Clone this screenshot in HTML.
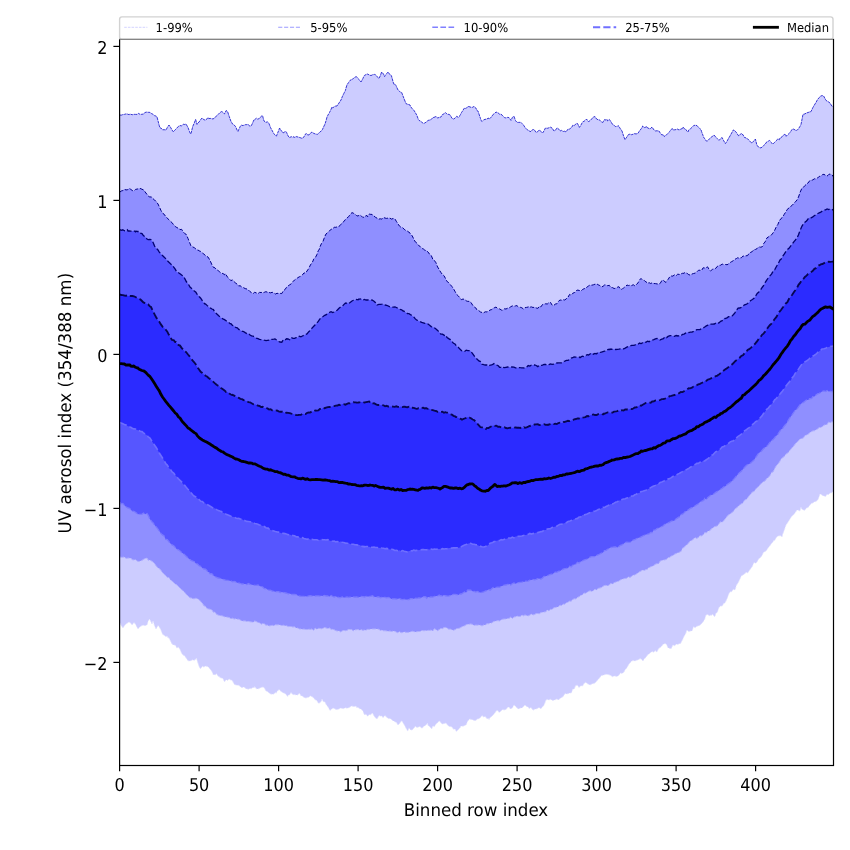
<!DOCTYPE html>
<html><head><meta charset="utf-8"><title>UV aerosol index percentiles</title>
<style>html,body{margin:0;padding:0;background:#fff}body{width:850px;height:850px;overflow:hidden}</style></head>
<body>
<svg width="850" height="850" viewBox="0 0 850 850" style="display:block;will-change:transform" text-rendering="geometricPrecision">
<path d="M120.0,115.0 L121.2,115.2 L122.8,114.6 L124.4,114.4 L126.0,113.9 L127.5,114.1 L129.1,114.7 L130.0,114.0 L130.7,114.3 L132.3,114.7 L133.9,114.3 L135.5,114.4 L137.1,114.4 L138.7,113.4 L140.0,114.4 L141.9,114.3 L143.4,114.0 L145.0,112.5 L146.6,112.1 L148.2,112.3 L150.0,112.4 L151.4,113.5 L153.0,114.3 L154.6,115.7 L156.2,116.1 L157.0,117.0 L157.8,120.0 L159.3,125.8 L160.0,128.0 L160.9,127.9 L162.5,129.8 L164.1,129.7 L166.0,130.0 L167.3,127.5 L169.0,125.0 L170.5,127.3 L172.1,130.0 L173.0,131.6 L173.7,131.4 L175.2,129.8 L176.8,128.1 L178.4,126.4 L180.0,125.6 L181.6,125.8 L183.2,124.3 L184.8,124.5 L186.0,124.0 L188.0,127.5 L189.6,131.8 L190.6,134.0 L191.1,133.1 L192.7,126.6 L194.3,122.9 L195.6,119.4 L197.0,124.4 L197.5,123.3 L199.1,122.0 L200.7,119.6 L202.0,118.0 L203.9,119.7 L205.0,120.0 L205.5,120.0 L207.0,118.9 L208.0,117.6 L208.6,118.6 L210.2,118.4 L211.8,118.7 L213.0,119.0 L215.0,117.7 L216.6,115.7 L218.2,114.5 L219.8,112.7 L221.4,111.6 L222.0,111.6 L222.9,112.3 L224.0,113.6 L224.5,113.8 L226.1,110.6 L227.0,111.0 L227.7,111.9 L229.3,116.7 L230.9,121.2 L232.0,123.0 L232.5,124.0 L234.1,124.9 L235.7,126.8 L237.3,130.6 L238.0,131.4 L238.8,129.4 L240.4,126.2 L241.4,125.0 L242.0,125.5 L243.6,125.4 L245.2,124.7 L246.8,124.6 L248.0,124.4 L250.0,126.3 L251.0,126.0 L251.6,125.1 L253.2,121.7 L254.0,119.6 L254.7,119.7 L256.3,118.2 L257.9,119.4 L259.0,118.4 L259.5,118.4 L261.1,116.6 L262.0,115.4 L262.7,116.3 L264.0,121.0 L265.9,122.4 L267.5,121.8 L269.0,123.6 L270.6,127.7 L272.4,131.0 L273.8,133.7 L275.4,135.2 L276.4,136.2 L277.0,134.6 L278.6,130.7 L279.6,128.0 L280.2,129.2 L281.8,131.3 L283.0,133.0 L285.0,131.7 L286.0,131.6 L286.5,132.3 L288.1,135.9 L289.4,137.6 L291.3,136.7 L292.9,137.4 L294.0,136.6 L294.5,137.5 L296.1,136.6 L298.0,137.0 L299.3,137.4 L300.9,137.9 L302.0,138.4 L304.0,136.9 L305.6,133.9 L306.4,133.6 L307.2,134.7 L309.0,135.0 L310.4,133.2 L312.0,132.0 L313.6,133.3 L315.2,133.9 L316.8,134.3 L317.4,134.4 L318.3,133.6 L319.9,132.0 L321.5,130.8 L322.4,129.6 L323.1,128.0 L325.0,124.0 L326.3,119.8 L327.0,117.0 L327.9,115.2 L329.5,112.5 L331.1,109.2 L332.0,107.0 L332.7,108.0 L334.2,106.7 L335.8,106.0 L337.0,106.0 L339.0,103.0 L341.0,100.0 L342.2,96.9 L343.8,93.5 L345.4,90.5 L346.0,88.0 L347.0,84.8 L348.6,82.5 L350.0,80.4 L351.7,79.6 L353.3,78.6 L354.9,77.2 L356.4,76.6 L358.1,78.7 L359.7,80.2 L361.0,82.0 L362.9,78.5 L364.0,76.0 L364.5,75.4 L366.0,74.6 L367.0,74.0 L367.6,74.1 L369.2,74.9 L371.0,75.6 L372.4,74.8 L374.4,74.4 L375.6,74.8 L377.2,76.8 L379.0,78.4 L380.4,75.5 L381.6,72.0 L383.5,74.0 L384.6,76.6 L385.1,75.7 L386.7,73.5 L388.0,72.0 L389.9,74.6 L391.4,75.6 L393.1,81.9 L394.0,84.4 L394.7,84.0 L396.0,85.6 L398.0,90.0 L399.4,91.1 L401.0,92.7 L401.6,92.4 L402.6,94.9 L404.2,99.1 L406.0,103.6 L407.4,104.2 L409.0,104.6 L410.0,105.0 L410.6,106.6 L412.2,108.6 L413.7,110.1 L415.0,112.0 L416.9,115.4 L418.5,119.9 L419.0,120.4 L420.1,120.9 L421.7,122.1 L423.3,123.4 L424.0,123.4 L424.9,122.9 L426.5,121.9 L428.0,120.4 L430.0,120.0 L431.2,119.5 L432.8,117.6 L434.0,117.4 L436.0,116.5 L437.6,117.9 L439.2,117.5 L440.0,117.0 L440.8,117.2 L442.4,114.6 L444.0,113.8 L445.0,113.0 L445.5,112.6 L447.1,114.2 L449.0,114.4 L450.3,115.2 L451.9,118.2 L453.6,119.0 L455.1,118.1 L456.7,116.3 L458.3,117.3 L460.0,115.6 L461.4,112.7 L463.0,110.4 L464.0,108.4 L464.6,108.4 L466.2,108.4 L467.8,106.5 L469.0,106.6 L471.0,107.3 L472.6,107.3 L474.0,106.4 L475.8,108.0 L477.3,110.8 L478.0,111.0 L478.9,113.8 L480.5,118.5 L481.4,121.0 L482.1,121.5 L483.7,119.8 L485.0,119.4 L486.9,119.0 L488.5,118.0 L489.0,119.0 L490.1,118.4 L491.7,116.5 L493.2,114.4 L494.8,113.2 L496.0,112.0 L498.0,112.8 L499.6,114.2 L501.0,114.0 L502.8,116.0 L504.4,117.5 L506.0,118.0 L507.6,117.4 L509.0,117.6 L511.0,120.4 L512.3,117.6 L513.4,116.4 L513.9,116.2 L515.5,120.5 L517.0,122.4 L518.7,122.4 L520.3,122.3 L521.0,122.4 L521.9,123.4 L523.5,125.0 L525.0,127.4 L527.0,129.6 L528.2,130.2 L529.8,131.3 L531.0,131.6 L533.0,129.2 L534.6,130.2 L536.0,132.4 L537.8,131.6 L539.0,130.0 L540.9,131.3 L542.6,133.0 L544.1,130.7 L545.4,128.0 L547.3,128.3 L548.9,127.8 L550.5,127.0 L551.0,127.6 L552.1,128.0 L554.0,131.0 L555.3,130.4 L556.8,128.2 L557.4,128.0 L558.4,128.7 L560.0,131.0 L561.6,130.4 L563.2,131.5 L564.8,131.2 L566.0,132.0 L568.0,129.1 L569.6,129.2 L571.2,127.4 L572.0,127.0 L572.7,125.3 L574.3,125.6 L575.9,123.8 L576.6,123.4 L577.5,123.5 L579.4,127.4 L580.7,125.5 L582.3,122.5 L583.0,121.6 L583.9,121.4 L585.5,120.2 L586.6,119.0 L587.1,120.0 L588.4,121.6 L590.2,120.6 L591.8,118.8 L593.4,117.0 L595.0,116.6 L596.6,119.0 L598.2,119.9 L599.0,119.6 L599.8,120.2 L601.6,122.0 L603.0,122.4 L604.5,119.6 L606.1,120.1 L607.0,119.4 L607.7,120.9 L609.3,119.5 L610.0,120.2 L610.9,121.7 L612.5,124.3 L614.1,125.2 L615.0,126.4 L615.7,126.5 L617.3,126.3 L618.0,125.6 L618.9,126.3 L620.4,128.8 L622.0,131.0 L623.6,136.1 L625.0,139.6 L626.8,137.1 L628.4,134.6 L629.0,134.4 L630.0,134.1 L631.6,134.7 L633.2,134.2 L634.8,133.6 L636.0,134.0 L637.9,133.4 L639.5,130.9 L641.1,128.9 L642.0,127.6 L642.7,126.0 L644.3,127.5 L645.9,127.1 L647.0,126.6 L647.5,127.9 L649.1,128.5 L650.0,129.0 L650.7,128.3 L652.0,127.0 L654.0,130.0 L655.4,130.9 L657.0,130.8 L659.0,131.0 L660.2,133.0 L661.8,134.9 L663.4,134.8 L664.4,136.6 L665.0,135.7 L666.6,134.8 L668.1,133.3 L669.0,132.4 L669.7,131.4 L671.3,129.3 L672.4,128.6 L672.9,129.9 L674.5,129.8 L676.0,129.6 L677.7,129.1 L679.0,130.0 L680.9,129.1 L682.5,128.4 L683.0,127.0 L684.0,128.5 L685.6,129.2 L687.2,131.4 L688.0,132.0 L688.8,129.9 L690.4,128.8 L692.0,127.4 L693.6,125.6 L695.2,125.2 L697.0,125.6 L698.4,127.2 L699.9,128.7 L701.0,129.6 L701.5,131.4 L703.1,135.7 L704.0,138.0 L704.7,138.6 L706.3,141.0 L707.0,141.4 L707.9,140.6 L709.5,138.7 L711.1,137.3 L712.7,136.2 L714.0,135.0 L715.8,137.1 L717.4,138.7 L719.0,140.4 L720.6,138.7 L722.0,137.4 L723.8,140.9 L725.4,143.6 L727.0,141.2 L728.6,138.3 L730.0,136.0 L731.7,132.9 L733.3,130.0 L734.0,130.0 L734.9,131.1 L736.5,132.5 L738.1,135.3 L739.0,136.0 L739.7,135.0 L741.3,133.3 L742.0,134.4 L742.9,134.6 L744.5,137.5 L746.1,137.9 L747.0,139.0 L747.6,138.8 L749.2,140.4 L750.8,142.3 L752.0,143.0 L754.0,140.7 L755.4,139.0 L757.0,145.6 L758.8,147.0 L760.0,148.0 L762.0,147.3 L763.5,145.6 L765.1,144.3 L766.0,143.0 L766.7,141.9 L768.3,141.2 L769.6,140.4 L771.5,142.7 L772.4,144.0 L773.1,143.9 L774.7,142.2 L776.3,140.8 L777.0,139.6 L777.9,139.0 L779.4,139.7 L780.0,138.0 L781.0,137.9 L782.6,135.8 L784.2,134.7 L785.0,134.0 L785.8,136.1 L787.0,135.6 L789.0,133.6 L790.6,131.7 L792.0,129.4 L793.8,129.1 L795.3,130.2 L797.0,130.4 L798.5,128.7 L800.1,126.2 L801.0,124.4 L801.7,120.9 L803.0,114.4 L804.9,113.9 L806.4,113.0 L808.1,112.5 L809.7,111.9 L811.0,111.6 L812.8,107.7 L814.4,105.0 L816.0,102.4 L817.6,99.4 L819.2,97.7 L820.6,96.0 L822.4,95.6 L823.6,96.0 L826.0,100.4 L827.1,101.1 L828.7,102.0 L830.0,103.0 L831.9,106.2 L833.0,106.4 L833.5,106.7 L833.5,491.6 L833.0,491.6 L831.9,492.8 L830.3,492.9 L828.7,494.2 L828.0,495.0 L827.1,494.1 L825.6,496.4 L824.0,496.0 L822.4,495.4 L820.8,494.2 L820.0,494.0 L819.2,496.4 L818.0,499.6 L816.0,501.6 L814.4,501.7 L812.8,503.0 L811.2,503.4 L810.0,505.0 L808.1,507.5 L806.5,507.9 L804.9,509.9 L804.0,510.4 L803.3,509.7 L801.7,509.1 L801.0,507.0 L800.0,511.0 L798.5,510.3 L797.0,510.0 L795.3,512.6 L793.8,514.6 L792.0,516.0 L790.6,517.9 L789.0,520.6 L787.4,523.0 L786.0,525.0 L784.2,530.3 L782.6,534.5 L782.0,537.0 L781.0,535.8 L779.4,535.8 L778.0,536.0 L776.3,537.5 L774.7,540.4 L774.0,540.0 L773.1,541.8 L771.5,543.5 L769.9,545.7 L768.0,548.0 L766.7,550.2 L765.1,551.6 L763.5,552.3 L762.0,555.5 L760.0,558.0 L758.8,558.8 L758.0,560.0 L757.2,561.7 L755.6,563.2 L754.0,562.5 L752.4,566.2 L750.8,568.6 L750.0,569.5 L749.2,570.7 L747.6,572.9 L746.1,572.2 L744.5,574.1 L743.0,575.0 L741.3,575.9 L739.7,579.6 L738.0,583.0 L736.5,585.1 L735.0,590.0 L733.3,589.3 L731.7,591.7 L730.2,591.8 L729.0,593.5 L727.0,598.8 L725.0,603.0 L723.8,603.3 L722.2,606.1 L720.6,605.9 L719.0,607.5 L717.4,612.1 L715.8,613.6 L715.0,616.4 L714.3,616.4 L712.7,614.2 L711.1,615.5 L710.0,615.0 L709.5,616.1 L707.9,614.4 L706.0,615.0 L704.7,619.3 L703.0,622.0 L701.5,623.7 L699.9,625.2 L698.0,626.0 L696.8,626.2 L695.2,627.8 L693.6,626.7 L692.0,631.0 L690.0,631.0 L688.8,631.8 L687.0,630.0 L685.6,633.8 L684.0,636.4 L682.5,639.8 L680.9,642.8 L680.0,644.0 L679.3,643.6 L677.7,644.6 L677.0,644.0 L676.1,644.4 L674.5,645.7 L672.9,644.9 L671.3,648.5 L669.7,648.4 L669.0,648.0 L668.1,648.0 L666.6,644.6 L665.0,643.4 L664.0,644.0 L663.4,644.0 L661.8,645.9 L660.2,647.6 L658.6,648.4 L657.0,651.9 L656.0,651.6 L655.4,650.5 L653.8,652.2 L652.2,651.5 L650.7,652.4 L649.0,654.0 L647.5,654.9 L645.9,657.5 L644.3,658.7 L643.0,661.0 L641.1,659.1 L640.0,658.6 L639.5,659.0 L637.9,659.9 L636.3,660.3 L635.0,661.0 L633.2,660.6 L631.6,661.1 L630.0,663.1 L629.0,664.0 L628.4,665.0 L626.8,668.0 L625.2,669.6 L624.0,672.0 L622.0,673.5 L620.4,672.9 L618.9,675.2 L617.0,676.6 L615.7,676.2 L614.1,675.9 L612.5,676.7 L610.9,675.6 L610.0,675.3 L609.3,674.8 L607.7,674.5 L606.1,674.3 L605.0,674.4 L604.5,674.8 L603.0,675.3 L601.4,675.5 L600.0,677.5 L598.2,679.3 L596.6,681.2 L595.0,683.0 L593.4,683.6 L591.8,684.1 L590.0,685.0 L588.6,684.3 L587.1,683.5 L586.0,682.6 L585.5,682.4 L583.9,683.6 L583.0,685.6 L582.3,685.9 L580.7,685.7 L579.0,687.6 L577.5,685.3 L575.6,685.4 L574.3,689.0 L572.7,689.1 L572.0,691.4 L571.2,693.0 L569.6,693.0 L568.0,693.7 L566.4,693.9 L565.0,693.6 L563.2,696.6 L561.6,697.4 L560.0,698.4 L558.4,700.0 L556.8,699.0 L555.3,699.8 L553.7,700.3 L553.0,700.4 L552.1,700.2 L550.5,699.3 L550.0,699.4 L548.9,700.1 L547.3,699.4 L546.0,700.0 L544.1,705.1 L543.0,706.4 L542.5,706.8 L540.9,708.7 L539.0,707.6 L537.8,708.2 L536.2,709.0 L534.6,709.2 L534.0,709.6 L533.0,710.2 L531.0,707.4 L529.8,708.3 L529.0,708.4 L528.2,707.1 L526.6,706.4 L525.0,705.1 L524.0,706.0 L523.5,706.6 L521.9,707.9 L520.3,708.1 L518.4,709.0 L517.1,708.0 L515.5,706.2 L514.0,705.0 L512.3,708.1 L510.4,709.0 L509.1,707.2 L508.0,707.0 L506.0,709.6 L504.0,710.0 L502.8,709.5 L501.2,710.8 L499.6,712.2 L499.0,712.4 L498.0,710.7 L497.0,710.4 L496.4,710.8 L494.8,713.0 L494.0,714.0 L493.2,714.9 L491.7,716.4 L490.1,717.5 L489.0,719.6 L488.5,718.5 L486.9,718.7 L485.3,716.5 L483.7,716.9 L482.0,715.6 L480.5,717.4 L478.9,718.8 L477.3,718.9 L476.0,720.4 L474.2,720.5 L472.6,719.8 L471.0,719.4 L469.6,719.0 L467.8,720.9 L466.0,725.0 L464.6,725.6 L463.0,726.2 L461.0,726.0 L459.9,728.1 L458.3,729.4 L456.4,731.6 L455.1,729.1 L453.5,729.2 L452.0,727.0 L450.3,726.6 L449.0,726.4 L447.1,724.5 L446.0,723.0 L445.5,723.2 L444.0,723.6 L442.4,724.0 L440.8,722.7 L440.0,721.2 L439.2,721.0 L437.6,722.8 L436.0,724.0 L434.4,726.6 L432.8,725.9 L431.6,729.0 L429.6,726.4 L428.1,725.6 L427.4,723.0 L426.5,724.5 L424.9,725.7 L423.3,726.8 L422.0,728.4 L420.0,726.4 L418.5,727.0 L416.9,727.4 L415.3,726.3 L414.0,728.0 L412.2,729.9 L410.6,729.9 L409.0,727.9 L408.0,730.6 L407.4,730.7 L405.8,727.8 L404.2,724.7 L402.6,722.3 L402.0,721.0 L401.0,721.2 L399.4,723.8 L398.0,725.0 L396.3,722.3 L394.7,721.8 L394.0,721.0 L393.1,720.9 L391.5,719.5 L390.0,718.6 L388.3,718.5 L386.7,717.2 L385.0,715.6 L383.5,717.0 L383.0,717.6 L381.9,716.0 L380.4,716.1 L379.0,715.6 L377.2,718.8 L376.0,718.4 L374.0,715.9 L373.0,714.0 L372.4,713.0 L370.8,714.5 L370.0,715.0 L369.2,714.4 L367.6,716.3 L366.0,714.3 L365.0,714.4 L364.5,714.9 L362.9,711.1 L361.0,709.0 L359.7,708.8 L358.1,707.5 L356.5,707.4 L356.0,706.0 L354.9,706.6 L353.3,706.4 L351.7,705.9 L350.0,707.0 L348.6,707.8 L347.0,708.2 L345.4,707.7 L344.0,708.6 L342.2,708.5 L340.6,708.1 L339.0,708.9 L337.4,709.6 L336.0,709.4 L334.2,708.6 L333.0,708.0 L331.1,709.5 L330.0,710.4 L329.5,709.8 L327.9,706.7 L326.3,704.8 L325.0,702.0 L323.1,701.5 L322.0,699.0 L321.5,701.2 L319.9,702.4 L319.0,703.6 L318.3,702.9 L316.8,700.6 L315.2,699.8 L313.6,698.1 L312.0,696.4 L311.0,696.4 L310.4,695.8 L308.8,697.2 L307.2,697.4 L306.0,698.0 L304.0,697.6 L302.4,695.9 L300.9,695.8 L300.0,694.0 L299.3,693.3 L297.7,694.9 L296.0,695.0 L294.5,694.6 L292.9,694.7 L291.0,692.4 L289.7,694.7 L288.1,695.3 L287.6,696.4 L286.5,694.9 L285.0,693.4 L284.0,693.0 L283.4,692.9 L281.8,691.9 L280.2,690.8 L279.0,689.6 L277.0,691.6 L276.0,693.3 L275.4,692.2 L273.8,694.1 L272.0,694.2 L270.6,693.9 L269.1,693.0 L268.0,692.0 L267.5,691.5 L265.9,690.9 L264.3,687.7 L263.0,687.0 L261.1,687.5 L259.5,688.3 L258.0,689.0 L256.3,688.8 L254.7,686.4 L254.0,688.0 L253.2,687.2 L251.6,688.6 L250.0,688.6 L248.4,689.2 L246.8,688.8 L246.0,689.0 L245.2,687.8 L243.6,686.9 L242.0,687.7 L240.4,686.7 L238.8,685.2 L237.3,685.2 L236.0,685.0 L234.1,684.2 L232.5,680.8 L230.9,679.8 L230.0,680.0 L229.3,678.7 L227.7,680.4 L226.1,679.8 L225.0,681.0 L224.5,681.9 L222.9,678.4 L221.4,678.0 L219.8,677.6 L219.0,676.0 L218.2,676.4 L216.6,673.8 L215.0,675.1 L214.0,674.4 L213.4,675.0 L211.8,671.2 L210.0,669.0 L208.6,667.3 L207.0,666.2 L206.0,666.4 L205.5,666.1 L203.9,667.1 L202.3,666.2 L200.7,668.5 L200.0,668.4 L199.1,666.5 L197.5,661.7 L196.4,658.0 L195.9,658.9 L194.0,660.4 L192.7,659.8 L191.1,660.6 L190.0,661.0 L188.0,660.7 L186.4,658.5 L184.8,655.9 L183.0,655.0 L181.6,653.2 L180.0,649.4 L179.0,648.0 L178.4,647.2 L176.8,647.9 L175.2,645.1 L173.7,645.1 L172.0,644.0 L170.5,641.0 L168.9,637.8 L168.0,638.0 L167.3,636.2 L165.7,636.5 L164.1,635.3 L162.5,634.2 L162.0,633.0 L160.9,629.9 L159.3,627.0 L158.0,625.6 L156.0,629.0 L154.6,626.1 L153.0,621.0 L152.0,624.0 L151.4,622.7 L149.6,619.0 L148.2,621.1 L147.0,625.0 L145.0,625.7 L143.4,625.2 L142.0,625.6 L140.3,626.6 L138.7,628.0 L138.0,629.0 L137.1,627.4 L135.5,624.3 L134.0,622.4 L132.0,625.0 L130.7,623.1 L129.0,622.0 L127.5,623.0 L126.0,624.0 L124.4,625.8 L123.0,628.0 L121.2,625.4 L120.0,623.0Z" fill="#ccccff"/>
<path d="M120.0,192.0 L121.2,191.0 L122.8,190.6 L124.4,189.0 L125.0,189.6 L126.0,189.9 L127.5,189.8 L129.1,188.2 L130.0,189.0 L130.7,189.3 L132.3,190.5 L134.0,191.0 L135.5,189.4 L137.1,189.1 L138.7,188.7 L140.0,188.4 L141.9,189.2 L143.4,189.9 L144.0,190.0 L145.0,191.8 L147.0,194.4 L148.2,196.0 L149.8,197.0 L151.4,196.9 L152.0,198.0 L153.0,198.7 L154.6,200.0 L156.2,201.6 L158.0,204.0 L159.3,206.8 L160.9,210.3 L162.4,213.0 L164.1,214.2 L165.7,216.5 L167.3,218.1 L168.0,219.0 L168.9,219.7 L170.5,221.4 L172.1,222.7 L173.7,225.0 L175.2,226.4 L176.0,227.0 L176.8,227.5 L178.4,228.3 L180.0,229.6 L181.6,229.3 L183.0,231.6 L184.8,233.6 L186.4,234.6 L187.0,236.0 L188.0,238.5 L189.6,242.5 L191.0,246.0 L192.7,246.9 L194.3,247.7 L195.9,249.0 L197.5,250.0 L198.0,250.0 L199.1,250.8 L200.7,251.5 L202.3,252.9 L203.9,254.1 L205.5,255.6 L207.0,256.5 L208.0,257.0 L208.6,257.9 L210.2,260.8 L211.8,264.5 L213.0,267.0 L215.0,267.9 L216.6,269.6 L218.2,270.6 L219.8,272.0 L221.4,273.4 L222.0,273.6 L222.9,273.4 L224.5,274.8 L225.0,273.6 L226.1,274.8 L227.7,277.4 L229.3,278.8 L230.0,279.6 L230.9,280.7 L232.5,279.9 L234.1,281.7 L235.7,283.1 L237.3,284.3 L238.8,286.1 L240.0,285.6 L242.0,287.2 L243.6,287.7 L245.2,288.6 L247.0,289.0 L248.4,290.0 L250.0,291.6 L252.0,293.0 L253.2,293.5 L254.7,292.3 L256.3,292.9 L257.9,293.7 L259.5,292.4 L261.1,292.5 L262.0,292.4 L262.7,292.9 L264.3,292.3 L265.9,291.7 L267.5,292.2 L268.0,292.0 L269.1,292.5 L270.6,292.8 L272.2,292.3 L274.0,293.0 L275.4,294.0 L277.0,293.3 L278.6,293.5 L280.2,293.3 L281.0,293.6 L281.8,293.5 L283.4,290.7 L285.0,289.6 L286.5,287.3 L288.0,286.0 L289.7,284.8 L291.3,283.8 L292.9,281.7 L294.5,280.0 L296.0,279.0 L297.7,277.8 L299.3,276.8 L300.9,276.2 L302.4,274.9 L304.0,272.9 L305.6,273.1 L307.0,271.0 L308.8,268.4 L310.4,265.0 L312.0,262.7 L313.0,261.0 L313.6,259.1 L315.2,257.9 L316.8,254.8 L318.3,250.6 L319.0,250.0 L319.9,247.1 L321.5,243.4 L323.1,241.2 L324.7,236.7 L326.0,234.0 L327.9,232.3 L329.5,231.0 L331.1,229.2 L332.0,229.0 L332.7,228.7 L334.2,227.3 L335.8,227.3 L337.4,226.8 L339.0,226.3 L340.0,225.6 L340.6,224.8 L342.2,222.8 L343.8,221.6 L345.4,219.5 L347.0,218.0 L348.6,216.7 L350.1,214.5 L352.0,212.6 L353.3,213.2 L354.9,214.1 L356.5,215.5 L357.0,216.0 L358.1,215.8 L360.0,215.0 L361.3,215.9 L362.9,217.5 L364.0,217.0 L364.5,216.4 L366.0,215.9 L367.0,215.4 L367.6,216.7 L369.2,214.0 L370.8,214.4 L372.0,214.4 L374.0,216.0 L375.6,217.4 L377.2,218.2 L378.0,219.0 L378.8,219.1 L380.4,218.8 L381.9,219.1 L383.5,217.6 L385.1,218.0 L386.0,218.4 L386.7,218.4 L388.3,218.0 L389.9,218.1 L391.5,219.1 L393.1,218.5 L395.0,219.0 L396.3,221.3 L397.8,223.5 L399.4,226.0 L400.0,226.6 L401.0,227.2 L402.6,227.6 L404.2,229.3 L405.8,230.5 L407.4,231.1 L409.0,232.3 L410.0,233.0 L410.6,234.2 L412.2,235.8 L413.7,238.9 L415.3,241.9 L416.9,243.1 L418.0,245.0 L418.5,245.4 L420.1,246.4 L421.7,248.4 L423.3,248.9 L424.9,250.3 L426.5,250.6 L428.0,252.0 L429.6,254.2 L431.2,255.4 L432.8,259.2 L434.0,260.0 L436.0,262.8 L437.6,267.0 L439.2,269.4 L440.0,271.0 L440.8,272.3 L442.4,274.4 L444.0,275.7 L445.5,278.5 L447.1,281.6 L448.0,282.0 L448.7,282.7 L450.3,284.6 L451.9,286.5 L453.5,288.7 L455.1,291.6 L456.7,294.4 L458.3,295.9 L460.0,298.0 L461.4,299.7 L463.0,299.0 L464.6,299.5 L466.2,300.8 L467.8,301.4 L469.4,301.3 L470.0,302.0 L471.0,302.5 L472.6,305.1 L474.2,306.9 L475.8,307.9 L477.0,310.0 L478.9,310.7 L480.5,312.0 L482.1,312.5 L483.0,313.0 L483.7,312.7 L485.3,311.8 L486.9,311.9 L488.5,311.3 L490.0,310.0 L491.7,309.6 L493.2,308.0 L494.8,307.6 L496.0,307.0 L498.0,308.9 L499.6,308.9 L501.2,309.9 L502.0,310.4 L502.8,310.2 L504.4,308.8 L506.0,309.0 L507.6,308.2 L509.0,308.0 L510.7,306.8 L512.3,305.9 L513.9,306.3 L515.5,305.9 L516.0,305.6 L517.1,305.8 L518.7,307.2 L520.3,307.3 L521.9,307.8 L523.5,309.0 L524.0,309.0 L525.0,307.7 L526.6,307.4 L528.2,307.0 L529.0,306.6 L529.8,307.2 L531.4,306.9 L533.0,307.5 L534.6,307.2 L536.2,308.0 L537.0,308.0 L537.8,308.4 L539.4,306.3 L540.9,306.9 L542.5,304.5 L544.0,304.0 L545.7,303.8 L547.3,304.0 L548.9,302.6 L550.0,303.0 L550.5,302.4 L552.1,305.1 L553.0,305.6 L553.7,305.5 L555.3,304.1 L556.8,303.8 L558.4,301.4 L560.0,300.0 L561.6,300.2 L563.2,299.7 L564.8,300.0 L566.0,299.0 L568.0,297.2 L569.6,294.4 L571.2,295.2 L572.7,293.3 L574.3,292.6 L575.9,292.0 L577.0,290.0 L577.5,290.1 L579.1,290.4 L581.0,291.0 L582.3,289.7 L583.9,288.8 L585.5,288.3 L587.1,287.0 L588.6,285.9 L590.0,285.0 L591.8,285.2 L593.4,284.8 L595.0,284.2 L597.0,284.0 L598.2,284.8 L599.8,285.5 L601.0,287.0 L603.0,286.4 L604.5,285.0 L606.0,284.8 L607.7,285.7 L609.3,285.3 L610.9,287.6 L612.5,287.6 L614.1,288.5 L615.0,288.4 L615.7,288.2 L617.3,287.3 L618.0,287.0 L618.9,286.7 L620.4,289.0 L622.0,289.4 L623.6,287.8 L625.2,286.7 L627.0,285.0 L628.4,285.5 L630.0,285.2 L631.6,285.6 L633.2,284.7 L635.0,286.0 L636.3,284.6 L637.9,283.0 L639.5,280.1 L641.0,278.4 L642.7,280.3 L644.3,280.4 L645.9,282.0 L647.0,282.4 L647.5,283.3 L649.1,282.7 L650.7,283.5 L652.2,282.8 L653.8,283.5 L655.4,283.6 L657.0,283.9 L658.0,284.0 L658.6,284.1 L660.2,283.4 L661.8,280.6 L663.0,280.0 L665.0,281.8 L666.0,282.4 L666.6,281.0 L668.1,279.4 L670.0,276.4 L671.3,276.0 L672.9,276.1 L674.5,274.8 L676.1,275.7 L677.7,274.2 L679.3,274.4 L680.0,274.6 L680.9,273.9 L682.5,273.3 L684.0,273.3 L685.0,272.4 L685.6,272.8 L687.2,273.4 L688.8,274.7 L690.0,275.0 L692.0,274.0 L693.6,273.5 L695.2,273.1 L696.8,271.9 L698.4,270.3 L700.0,270.2 L701.5,270.6 L703.1,267.8 L704.7,268.0 L706.3,267.6 L707.5,266.8 L709.5,269.9 L710.5,271.0 L711.1,270.5 L712.7,269.2 L714.3,268.8 L715.8,268.3 L717.4,266.3 L719.0,265.4 L720.0,265.3 L720.6,265.2 L722.2,264.1 L723.8,264.7 L725.4,264.5 L727.0,264.7 L728.0,264.4 L728.6,263.7 L730.2,262.5 L731.7,261.6 L733.3,260.7 L734.9,259.3 L736.5,258.5 L737.5,257.8 L738.1,258.0 L739.7,257.9 L741.3,257.8 L742.9,256.1 L744.5,256.0 L746.0,255.8 L747.6,255.6 L749.2,253.1 L750.8,252.3 L752.4,251.5 L754.0,249.4 L754.5,249.7 L755.6,249.4 L757.2,248.5 L758.8,246.8 L760.4,247.2 L762.0,246.9 L763.0,245.8 L763.5,243.8 L765.1,241.9 L767.0,237.8 L768.3,237.0 L769.9,235.7 L771.5,234.9 L773.0,233.0 L774.7,230.3 L776.3,226.7 L777.9,224.4 L779.4,220.6 L780.0,220.0 L781.0,218.5 L782.6,217.3 L784.2,214.4 L785.8,211.9 L787.4,209.3 L788.0,209.0 L789.0,207.6 L790.6,206.5 L792.2,205.3 L793.8,203.5 L795.3,201.9 L797.0,200.0 L798.5,197.0 L800.1,192.3 L802.0,188.0 L803.3,187.4 L804.9,185.6 L806.5,184.1 L808.0,183.0 L810.0,180.4 L811.2,180.4 L812.8,179.9 L814.4,178.8 L816.0,179.0 L817.6,178.0 L819.2,176.4 L820.8,176.2 L822.4,174.7 L823.0,174.4 L824.0,174.4 L825.6,175.3 L827.1,175.9 L828.0,175.4 L828.7,174.5 L830.0,174.0 L831.9,174.8 L833.0,176.0 L833.5,177.2 L833.5,421.3 L833.0,422.0 L831.9,421.7 L830.3,422.8 L828.7,421.9 L828.0,423.0 L827.1,424.5 L825.6,424.7 L824.0,425.2 L822.4,426.6 L820.8,427.4 L820.0,427.5 L819.2,427.5 L817.6,428.9 L816.0,429.8 L814.4,430.8 L812.8,430.9 L811.2,431.8 L810.0,432.5 L808.1,434.2 L806.5,435.0 L804.9,435.6 L803.3,438.1 L801.7,438.4 L800.0,439.0 L798.5,440.8 L796.9,442.3 L795.3,443.8 L793.8,445.9 L792.2,447.4 L790.6,449.6 L790.0,450.0 L789.0,451.6 L787.4,453.3 L785.8,454.2 L784.2,456.5 L782.6,457.7 L781.0,459.0 L780.0,461.0 L779.4,462.1 L777.9,464.1 L776.3,465.7 L774.7,468.5 L773.1,471.9 L771.5,472.4 L770.0,475.5 L768.3,477.4 L766.7,478.5 L765.1,480.9 L763.5,481.5 L762.0,482.7 L760.4,484.3 L758.8,486.3 L758.0,487.0 L757.2,487.5 L755.6,489.2 L754.0,491.5 L752.4,491.9 L750.8,494.1 L749.2,495.6 L747.6,497.9 L746.1,499.4 L744.5,500.2 L744.0,501.0 L742.9,503.1 L741.3,503.8 L739.7,504.9 L738.1,506.3 L736.5,508.0 L734.9,508.9 L733.3,511.5 L731.7,512.7 L730.0,514.0 L728.6,514.7 L727.0,516.5 L725.4,518.6 L723.8,520.6 L722.2,522.2 L720.6,521.7 L719.0,523.7 L718.0,525.0 L717.4,525.9 L715.8,526.3 L714.3,526.7 L712.7,528.1 L711.1,529.1 L709.5,531.0 L707.9,531.0 L706.3,533.0 L704.7,532.4 L704.0,534.0 L703.1,534.8 L701.5,535.9 L699.9,535.6 L698.4,537.4 L696.8,538.4 L695.2,537.6 L693.6,538.8 L692.0,540.4 L690.0,541.0 L688.8,542.8 L687.2,544.4 L685.6,545.6 L684.0,547.5 L682.5,548.1 L680.9,551.7 L680.0,551.5 L679.3,552.4 L677.7,552.7 L676.1,553.6 L674.5,554.2 L672.9,555.4 L671.3,556.1 L669.7,557.3 L668.1,557.6 L666.6,559.2 L665.0,559.9 L664.0,560.0 L663.4,559.9 L661.8,560.4 L660.2,561.1 L658.6,563.7 L657.0,563.7 L655.4,564.2 L653.8,565.5 L652.2,566.2 L650.7,566.8 L649.1,567.7 L648.0,568.0 L647.5,569.2 L645.9,569.6 L644.3,570.4 L642.7,569.9 L641.1,571.0 L639.5,571.7 L637.9,572.9 L636.3,574.0 L634.8,575.0 L633.2,575.1 L632.0,576.0 L630.0,577.5 L628.4,576.8 L626.8,578.2 L625.2,578.4 L623.6,578.8 L622.0,579.3 L620.4,579.9 L618.9,581.1 L617.3,581.6 L616.0,582.0 L614.1,582.7 L612.5,583.9 L610.9,583.2 L609.3,585.0 L607.7,585.7 L606.1,585.3 L604.5,585.5 L603.0,586.3 L601.4,587.6 L600.0,588.0 L598.2,588.3 L596.6,590.1 L595.0,589.1 L593.4,590.6 L591.8,591.5 L590.2,590.8 L588.6,591.3 L587.1,592.3 L586.0,593.0 L585.5,593.3 L583.9,593.0 L582.3,595.0 L580.7,595.3 L579.1,596.8 L577.5,597.3 L575.9,599.0 L574.3,598.8 L572.7,599.5 L572.0,600.0 L571.2,601.3 L569.6,601.1 L568.0,602.2 L566.4,602.7 L564.8,604.2 L563.2,604.1 L561.6,605.5 L560.0,605.2 L558.0,607.0 L556.8,607.1 L555.3,607.5 L553.7,607.8 L552.1,609.6 L550.5,609.2 L548.9,610.9 L547.3,609.8 L545.7,611.9 L544.0,612.0 L542.5,612.3 L540.9,612.5 L539.4,613.7 L537.8,613.6 L536.2,613.5 L534.6,614.5 L533.0,615.0 L531.4,614.0 L530.0,615.0 L528.2,615.9 L526.6,615.6 L525.0,614.9 L523.5,615.8 L521.9,614.9 L520.3,616.4 L518.7,616.5 L517.1,616.0 L515.5,616.8 L514.0,617.0 L512.3,618.6 L510.7,617.1 L509.1,618.4 L507.6,618.5 L506.0,619.0 L504.4,619.0 L502.8,619.2 L501.2,619.7 L499.6,621.0 L498.0,620.6 L496.0,621.0 L494.8,621.2 L493.2,621.8 L491.7,623.0 L490.1,623.1 L488.5,623.8 L486.9,623.7 L485.3,625.0 L483.7,625.0 L482.0,626.0 L480.5,625.2 L478.9,624.9 L477.3,625.2 L475.8,625.1 L474.2,625.4 L472.6,624.4 L471.0,624.0 L470.0,624.0 L469.4,624.2 L467.8,624.3 L466.2,624.7 L464.6,625.8 L463.0,626.3 L461.4,627.1 L459.9,628.0 L458.3,628.4 L456.7,628.6 L455.1,629.7 L454.0,630.0 L453.5,630.3 L451.9,629.7 L450.3,629.1 L448.7,629.2 L447.1,628.0 L446.0,627.6 L445.5,627.4 L444.0,627.5 L442.4,628.7 L440.8,628.2 L440.0,629.3 L439.2,629.5 L437.6,630.7 L436.0,629.6 L434.4,628.7 L432.8,630.9 L431.2,630.1 L429.6,630.4 L428.1,630.3 L426.5,630.8 L426.0,630.4 L424.9,630.7 L423.3,630.7 L421.7,630.4 L420.1,631.5 L418.5,631.5 L416.9,631.7 L415.3,631.9 L413.7,631.6 L412.2,631.2 L410.6,631.8 L409.0,632.3 L407.4,632.4 L406.0,632.4 L404.2,631.8 L402.6,632.5 L401.0,632.8 L399.4,631.4 L397.8,632.7 L396.3,632.1 L394.7,631.2 L393.1,631.1 L391.5,631.5 L390.0,631.0 L388.3,631.3 L386.7,631.0 L385.1,630.8 L383.5,630.8 L381.9,630.1 L380.4,630.4 L378.8,629.3 L377.2,628.9 L375.6,628.9 L374.0,629.0 L372.4,629.0 L370.8,629.0 L369.2,629.4 L367.6,629.3 L366.0,630.2 L364.5,629.9 L362.9,630.4 L361.3,629.6 L359.7,630.2 L358.1,629.5 L356.5,629.7 L354.9,629.9 L354.0,630.0 L353.3,631.0 L351.7,629.5 L350.1,629.5 L348.6,629.3 L347.0,630.4 L345.4,630.7 L343.8,630.3 L342.2,630.9 L340.6,631.9 L339.0,630.8 L338.0,631.0 L337.4,631.0 L335.8,630.7 L334.2,629.7 L332.7,629.2 L331.1,629.4 L329.5,627.9 L327.9,628.4 L326.0,628.0 L324.7,627.5 L323.1,628.2 L321.5,628.8 L319.9,628.4 L318.3,628.4 L316.8,629.3 L315.2,628.1 L313.6,630.5 L312.0,628.9 L310.4,629.4 L308.8,629.2 L307.2,629.4 L306.0,629.6 L304.0,629.1 L302.4,629.2 L300.9,629.0 L299.3,628.9 L297.7,628.0 L296.1,628.1 L294.5,626.8 L292.9,627.1 L291.3,626.6 L290.0,626.4 L288.1,626.6 L286.5,625.7 L285.0,625.8 L283.4,625.2 L281.8,625.6 L280.0,625.0 L278.6,624.8 L277.0,624.9 L275.4,624.8 L273.8,625.7 L272.2,625.3 L270.6,625.7 L270.0,625.5 L269.1,626.2 L267.5,625.1 L265.9,625.2 L264.3,623.8 L262.7,623.5 L261.1,624.3 L259.5,622.7 L258.0,622.4 L256.3,621.6 L254.7,620.9 L253.2,622.2 L251.6,621.9 L250.0,621.8 L248.4,621.3 L246.8,621.6 L245.2,620.9 L244.0,621.0 L242.0,620.9 L240.4,620.1 L238.8,619.2 L237.3,619.2 L235.7,618.7 L234.1,619.1 L232.5,618.2 L230.9,618.8 L230.0,618.0 L229.3,617.6 L227.7,617.2 L226.1,616.9 L224.5,616.8 L222.9,616.1 L221.4,615.7 L219.8,615.6 L218.0,615.0 L216.6,614.4 L215.0,612.0 L213.4,612.3 L211.8,609.8 L210.2,609.2 L208.6,609.0 L207.0,608.5 L206.0,607.0 L205.5,606.3 L203.9,605.8 L202.3,603.1 L200.7,601.5 L199.1,599.7 L198.0,599.0 L197.5,598.8 L195.9,598.2 L194.3,598.7 L192.7,598.8 L191.1,597.8 L190.0,598.0 L188.0,595.7 L186.4,594.5 L184.8,592.5 L183.2,590.8 L181.6,589.7 L180.0,588.0 L178.4,586.5 L176.8,584.8 L175.2,584.0 L173.7,582.5 L172.0,581.0 L170.5,579.9 L168.9,577.5 L167.3,577.4 L165.7,575.5 L164.1,574.3 L162.5,572.4 L162.0,572.0 L160.9,570.3 L159.3,568.6 L157.8,567.7 L156.2,565.9 L154.6,563.6 L153.0,562.0 L151.4,560.9 L149.8,559.9 L148.2,560.3 L147.0,558.0 L145.0,558.6 L143.4,559.4 L141.9,560.4 L140.3,560.9 L139.0,561.5 L137.1,561.1 L135.5,559.6 L133.9,559.9 L132.3,559.8 L130.7,557.9 L130.0,558.2 L129.1,558.0 L127.5,558.2 L126.0,558.4 L124.4,556.9 L122.8,557.3 L121.2,557.3 L120.0,557.0Z" fill="#8f8fff"/>
<path d="M120.0,229.6 L121.2,230.3 L122.8,229.8 L124.4,230.7 L126.0,231.5 L127.5,229.9 L128.0,231.0 L129.1,230.8 L130.7,231.2 L132.3,231.0 L133.9,230.7 L135.5,231.9 L136.0,231.0 L137.1,231.5 L138.7,231.5 L140.3,233.2 L142.0,233.6 L143.4,235.6 L145.0,236.7 L147.0,239.0 L148.2,239.7 L149.8,239.5 L151.0,239.6 L153.0,242.3 L154.6,246.1 L156.0,248.0 L157.8,249.7 L159.3,252.1 L160.9,253.8 L162.5,255.6 L164.0,257.0 L165.7,258.6 L167.3,260.7 L168.9,262.2 L170.5,263.8 L172.0,265.0 L173.7,267.1 L175.2,269.2 L176.8,272.0 L178.0,272.4 L180.0,273.7 L181.6,275.0 L183.0,276.0 L184.8,278.6 L186.4,281.8 L188.0,283.5 L190.0,287.0 L191.1,287.9 L192.7,289.8 L194.3,291.1 L195.9,292.3 L197.5,294.9 L198.0,295.0 L199.1,296.5 L200.7,298.2 L202.3,300.6 L203.9,302.9 L205.0,304.0 L205.5,303.9 L207.0,305.4 L208.6,306.8 L210.2,307.9 L212.0,309.0 L213.4,309.6 L215.0,312.5 L216.6,313.7 L218.2,315.2 L220.0,317.0 L221.4,318.0 L222.9,318.8 L224.5,319.6 L226.1,320.7 L227.7,321.9 L229.3,322.9 L230.0,323.6 L230.9,323.7 L232.5,325.4 L234.1,325.7 L235.7,327.5 L237.3,327.8 L238.8,329.4 L240.0,330.0 L242.0,331.1 L243.6,331.5 L245.2,332.6 L246.8,333.5 L248.4,333.5 L250.0,335.0 L251.6,335.8 L253.2,336.2 L254.7,337.2 L256.3,338.1 L258.0,338.6 L259.5,339.3 L261.1,339.6 L262.7,339.7 L264.3,340.2 L266.0,340.6 L267.5,340.3 L269.1,340.1 L270.0,340.0 L270.6,339.2 L272.2,339.4 L273.8,339.2 L275.0,339.0 L277.0,340.2 L278.6,341.4 L280.0,342.0 L281.8,342.2 L283.4,339.7 L285.0,340.1 L286.5,338.8 L288.0,339.0 L289.7,339.8 L291.3,337.5 L292.9,338.4 L294.5,338.3 L296.1,337.7 L298.0,337.6 L299.3,336.2 L300.9,336.8 L302.4,336.0 L304.0,335.2 L305.6,334.3 L307.0,334.0 L308.8,331.7 L310.4,330.2 L312.0,328.1 L314.0,326.0 L315.2,324.7 L316.8,323.0 L318.3,321.4 L319.9,319.0 L321.5,317.5 L322.0,317.0 L323.1,316.5 L324.7,315.3 L326.3,314.6 L328.0,313.0 L329.5,312.4 L331.1,311.7 L332.7,312.6 L334.0,312.0 L335.8,311.1 L337.4,309.9 L339.0,308.2 L340.6,307.0 L342.2,306.5 L343.8,304.6 L345.4,303.1 L346.0,303.4 L347.0,302.6 L348.6,303.4 L350.1,302.5 L352.0,301.0 L353.3,300.3 L354.9,300.3 L356.5,299.4 L358.1,299.8 L359.0,299.0 L359.7,299.1 L361.3,298.9 L362.9,300.1 L364.5,299.5 L366.0,300.0 L367.6,300.0 L369.2,299.9 L370.8,300.1 L372.0,300.0 L374.0,301.3 L375.6,302.7 L377.0,305.0 L378.8,304.4 L380.4,304.4 L381.9,304.2 L383.0,304.0 L383.5,304.5 L385.1,305.0 L386.7,305.3 L388.3,306.0 L390.0,307.0 L391.5,306.9 L393.1,307.2 L395.0,307.0 L396.3,307.5 L397.8,308.2 L399.4,309.3 L401.0,309.6 L402.0,310.0 L402.6,310.6 L404.2,311.4 L405.8,312.2 L407.4,313.5 L409.0,313.6 L410.0,314.4 L410.6,314.7 L412.2,315.7 L413.7,316.8 L415.3,318.9 L416.9,320.2 L418.5,320.7 L419.0,321.0 L420.1,321.6 L421.7,322.4 L423.3,322.8 L424.9,323.4 L426.5,323.0 L428.0,324.0 L429.6,325.2 L431.2,326.6 L432.8,327.1 L434.4,327.7 L436.0,329.0 L437.6,330.4 L439.2,332.0 L440.0,333.2 L440.8,334.2 L442.4,334.1 L444.0,335.1 L445.5,336.7 L446.0,336.0 L447.1,337.5 L448.7,338.6 L450.3,339.6 L451.9,341.4 L453.5,343.3 L455.0,344.0 L456.7,346.2 L458.3,347.3 L459.9,349.1 L461.4,350.4 L462.0,351.0 L463.0,351.1 L464.6,351.4 L466.2,350.2 L467.8,350.7 L469.4,350.7 L470.0,350.6 L471.0,351.6 L472.6,353.6 L474.2,355.9 L475.8,358.3 L477.0,359.0 L478.9,360.9 L480.5,361.6 L482.1,364.4 L483.0,364.4 L483.7,364.6 L485.3,365.0 L486.9,365.0 L488.5,365.8 L489.0,366.0 L490.1,365.1 L491.7,364.8 L493.2,364.1 L494.0,363.6 L494.8,364.1 L496.4,365.0 L498.0,365.5 L499.6,367.3 L501.2,367.3 L502.0,368.0 L502.8,367.2 L504.4,367.7 L506.0,367.3 L507.6,367.0 L509.1,367.1 L510.7,367.2 L512.0,367.0 L513.9,367.1 L515.5,367.9 L517.1,367.7 L518.7,367.5 L520.3,367.7 L521.9,367.8 L523.5,367.9 L524.0,368.0 L525.0,367.9 L526.6,367.1 L528.2,365.6 L529.8,366.1 L531.4,365.2 L533.0,365.0 L534.6,365.0 L536.2,365.5 L537.8,366.6 L539.4,365.5 L540.0,366.0 L540.9,365.4 L542.5,365.1 L544.1,364.5 L545.7,364.5 L547.3,365.2 L548.9,364.6 L550.5,363.9 L552.0,364.4 L553.7,364.2 L555.3,363.3 L556.8,363.0 L558.4,362.9 L560.0,362.9 L561.6,362.8 L563.2,362.0 L564.0,361.4 L564.8,361.1 L566.4,360.4 L568.0,360.4 L569.6,359.5 L571.2,358.1 L572.7,357.7 L574.0,357.0 L575.9,357.2 L577.5,357.2 L579.1,357.0 L580.0,357.6 L580.7,357.1 L582.3,356.2 L583.9,356.7 L585.5,355.8 L587.1,354.6 L588.6,355.0 L590.0,354.0 L591.8,352.9 L593.4,354.2 L595.0,353.5 L596.6,353.8 L598.2,352.2 L600.0,352.4 L601.4,352.2 L603.0,351.7 L604.5,351.2 L606.1,351.1 L607.7,349.6 L609.3,349.3 L610.0,349.6 L610.9,349.0 L612.5,349.3 L614.1,349.2 L615.7,349.5 L617.3,349.3 L618.9,349.2 L620.4,348.8 L622.0,349.0 L623.6,348.8 L625.2,348.1 L626.8,347.2 L628.4,346.5 L630.0,346.0 L631.6,345.4 L633.2,345.4 L634.8,345.2 L636.3,344.2 L637.9,344.3 L639.5,343.1 L640.0,343.4 L641.1,343.5 L642.7,342.8 L644.3,341.7 L645.9,342.3 L647.5,341.2 L649.1,341.7 L650.0,341.0 L650.7,340.5 L652.2,340.1 L653.8,339.7 L655.4,338.9 L657.0,338.4 L658.6,339.0 L660.0,340.0 L661.8,339.2 L663.4,338.6 L665.0,336.7 L666.6,337.6 L668.1,336.4 L670.0,335.6 L671.3,335.7 L672.9,335.9 L674.5,336.3 L676.1,335.5 L678.0,336.0 L679.3,335.5 L680.9,335.9 L682.5,334.3 L684.0,334.1 L685.6,333.1 L687.2,332.2 L688.0,332.4 L688.8,332.6 L690.4,332.2 L692.0,332.1 L693.6,331.4 L695.2,330.5 L696.8,329.7 L698.4,329.7 L700.0,329.6 L701.5,328.4 L703.1,328.0 L704.7,327.0 L706.3,325.9 L707.9,325.1 L709.0,324.4 L709.5,324.3 L711.1,324.2 L712.7,324.1 L714.3,324.0 L715.8,323.1 L717.4,322.5 L718.0,323.0 L719.0,322.9 L720.6,321.4 L722.2,320.7 L723.8,318.6 L725.0,318.5 L727.0,317.8 L728.6,316.7 L730.2,316.5 L732.0,316.0 L733.3,314.7 L734.9,312.9 L736.5,309.9 L737.5,309.0 L738.1,308.1 L739.7,308.0 L741.3,307.4 L742.9,306.2 L744.5,304.8 L746.0,304.5 L747.6,303.5 L749.2,302.1 L750.8,300.4 L752.4,299.5 L754.0,298.4 L754.5,297.7 L755.6,296.0 L757.2,293.4 L758.8,292.1 L760.4,290.1 L762.0,287.7 L762.5,287.0 L763.5,285.7 L765.1,282.6 L766.7,280.2 L767.5,279.0 L768.3,277.8 L769.9,275.9 L771.5,274.1 L773.1,271.2 L774.0,270.0 L774.7,269.7 L776.3,266.8 L777.9,263.9 L779.4,261.2 L780.0,260.0 L781.0,259.3 L782.6,256.3 L784.2,254.2 L785.8,251.6 L787.4,250.0 L788.0,249.0 L789.0,248.3 L790.6,246.1 L792.2,244.1 L793.8,241.9 L795.3,240.1 L797.0,238.0 L798.5,234.8 L800.1,230.4 L802.0,226.0 L803.3,224.2 L804.9,222.3 L806.5,221.1 L808.0,219.0 L809.7,217.6 L811.2,217.8 L812.8,216.9 L814.4,215.6 L816.0,215.0 L817.6,213.7 L819.2,212.8 L820.8,212.1 L822.4,210.9 L824.0,210.0 L825.6,209.8 L827.1,208.9 L828.7,209.6 L830.0,209.0 L831.9,209.4 L833.0,210.0 L833.5,209.7 L833.5,391.3 L833.0,391.0 L831.9,391.7 L830.3,391.3 L828.7,391.4 L827.1,390.6 L825.6,391.5 L824.0,391.0 L822.0,391.6 L820.8,392.4 L819.2,393.3 L817.6,393.8 L816.0,395.1 L814.4,396.4 L812.8,396.7 L812.0,398.0 L811.2,398.6 L809.7,398.7 L808.1,400.1 L806.5,399.9 L804.9,401.2 L803.3,402.6 L802.0,403.0 L800.1,404.7 L798.5,407.0 L796.9,409.2 L795.3,410.1 L794.0,412.0 L792.2,414.7 L790.6,416.7 L789.0,419.1 L787.4,421.9 L786.0,424.0 L784.2,426.1 L782.6,428.5 L781.0,429.6 L779.4,431.8 L777.9,434.4 L776.0,436.0 L774.7,437.7 L773.1,439.6 L771.5,440.6 L769.9,442.4 L768.3,444.6 L766.7,446.5 L766.0,447.0 L765.1,447.3 L763.5,448.8 L762.0,450.5 L760.4,452.1 L758.8,453.0 L758.0,454.0 L757.2,455.3 L755.6,457.5 L754.0,460.0 L752.4,461.4 L750.8,462.9 L749.2,463.9 L747.6,464.5 L746.1,465.8 L744.5,467.5 L744.0,468.0 L742.9,469.3 L741.3,471.2 L739.7,472.5 L738.1,474.1 L736.5,476.0 L734.9,477.9 L733.3,479.8 L732.0,481.0 L730.2,482.5 L728.6,483.6 L727.0,484.7 L725.4,486.2 L723.8,486.9 L722.2,488.3 L720.6,489.2 L720.0,490.0 L719.0,490.3 L717.4,491.4 L715.8,492.4 L714.3,493.6 L712.7,494.7 L711.1,494.9 L709.5,496.2 L707.9,497.4 L706.3,499.4 L704.7,498.5 L704.0,500.0 L703.1,500.6 L701.5,501.4 L699.9,502.1 L698.4,503.7 L696.8,504.7 L695.2,505.8 L693.6,506.8 L692.0,507.7 L690.4,508.3 L688.8,509.6 L688.0,510.0 L687.2,511.1 L685.6,511.2 L684.0,512.9 L682.5,514.2 L680.9,514.6 L679.3,516.9 L677.7,517.9 L676.0,519.0 L674.5,520.4 L672.9,520.9 L671.3,521.1 L669.7,522.2 L668.1,522.9 L666.6,523.2 L665.0,524.3 L664.0,525.0 L663.4,525.8 L661.8,526.5 L660.2,527.2 L658.6,528.0 L657.0,528.5 L655.4,529.9 L653.8,530.1 L652.2,532.5 L650.7,532.4 L649.1,533.9 L648.0,534.0 L647.5,534.3 L645.9,534.6 L644.3,535.3 L642.7,536.0 L641.1,536.9 L639.5,537.6 L637.9,537.9 L636.3,538.7 L634.8,539.7 L633.2,540.1 L632.0,541.0 L630.0,542.3 L628.4,542.4 L626.8,542.2 L625.2,542.5 L623.6,543.8 L622.0,545.0 L620.4,545.3 L618.9,546.6 L617.3,547.5 L616.0,547.0 L614.1,546.9 L612.5,547.3 L610.9,547.5 L610.0,548.0 L609.3,548.3 L607.7,549.3 L606.1,550.4 L604.5,550.6 L603.0,552.5 L601.4,553.2 L599.8,554.0 L598.0,555.0 L596.6,555.3 L595.0,556.6 L593.4,556.6 L591.8,556.6 L590.2,557.1 L588.6,558.3 L587.1,559.0 L585.5,559.6 L584.0,560.0 L582.3,561.1 L580.7,561.4 L579.1,563.0 L577.5,562.3 L575.9,564.2 L574.3,564.6 L572.7,565.2 L571.2,566.9 L569.6,566.2 L568.0,568.0 L566.4,568.4 L564.8,568.7 L563.2,569.2 L561.6,570.1 L560.0,570.9 L558.4,571.4 L556.8,572.3 L555.3,572.1 L554.0,573.0 L552.1,574.2 L550.5,574.5 L548.9,575.0 L547.3,575.8 L545.7,576.2 L544.1,576.4 L542.5,577.9 L540.9,579.1 L540.0,578.4 L539.4,578.7 L537.8,578.6 L536.2,579.4 L534.6,579.8 L533.0,579.4 L531.4,580.0 L529.8,580.1 L528.2,581.1 L526.6,581.3 L526.0,581.0 L525.0,581.7 L523.5,581.7 L521.9,582.1 L520.3,582.4 L518.7,582.7 L517.1,583.0 L515.5,583.7 L513.9,582.9 L512.3,583.7 L510.7,585.1 L510.0,584.0 L509.1,584.3 L507.6,584.4 L506.0,585.0 L504.4,585.1 L502.8,585.7 L501.2,586.2 L499.6,587.3 L498.0,587.1 L496.4,587.4 L494.8,587.9 L494.0,588.0 L493.2,587.5 L491.7,588.7 L490.1,590.2 L488.5,589.5 L486.9,590.5 L485.3,591.1 L483.7,591.9 L482.0,592.4 L480.5,592.6 L478.9,592.2 L477.3,591.5 L475.8,592.0 L474.2,591.5 L472.6,591.3 L471.0,590.3 L470.0,590.0 L469.4,590.2 L467.8,589.9 L466.2,592.4 L464.6,592.0 L463.0,593.0 L461.4,594.0 L460.0,594.0 L458.3,595.1 L456.7,594.7 L455.1,594.4 L453.5,594.3 L451.9,595.0 L450.0,595.6 L448.7,596.1 L447.1,596.0 L445.5,595.8 L444.0,594.9 L442.4,596.1 L440.8,595.7 L440.0,595.8 L439.2,595.1 L437.6,596.0 L436.0,595.9 L434.4,596.5 L432.8,597.1 L431.2,597.0 L429.6,597.2 L428.1,596.9 L426.5,598.2 L426.0,597.0 L424.9,596.7 L423.3,596.8 L421.7,597.5 L420.1,598.0 L418.5,597.9 L416.9,598.5 L415.3,598.2 L413.7,598.8 L412.2,598.7 L410.6,598.7 L409.0,599.6 L407.4,599.7 L406.0,599.4 L404.2,599.4 L402.6,599.6 L401.0,599.4 L399.4,598.2 L397.8,598.9 L396.3,599.1 L394.7,598.8 L393.1,598.8 L391.5,598.9 L390.0,598.0 L388.3,597.4 L386.7,597.9 L385.1,597.3 L383.5,597.2 L381.9,597.3 L380.4,597.7 L378.8,596.8 L377.2,597.0 L375.6,596.9 L374.0,596.8 L372.4,595.7 L370.8,596.4 L370.0,596.4 L369.2,596.6 L367.6,596.6 L366.0,596.4 L364.5,597.0 L362.9,596.6 L361.3,596.5 L359.7,597.0 L358.1,597.3 L356.5,597.0 L354.9,597.2 L353.3,596.9 L351.7,597.1 L350.1,597.2 L348.6,597.5 L347.0,596.9 L345.4,597.4 L343.8,597.5 L342.2,596.9 L340.6,597.6 L340.0,597.6 L339.0,597.5 L337.4,597.2 L335.8,596.2 L334.2,597.0 L332.7,596.5 L331.1,595.5 L329.5,596.6 L327.9,595.9 L326.0,596.0 L324.7,595.4 L323.1,595.9 L321.5,595.8 L319.9,596.1 L318.3,595.9 L316.8,595.9 L315.2,596.0 L313.6,595.7 L312.0,596.1 L310.4,595.7 L308.8,595.9 L307.2,596.5 L305.6,596.2 L304.0,596.4 L302.0,596.4 L300.9,596.3 L299.3,596.0 L297.7,595.4 L296.1,594.7 L294.5,594.3 L292.9,594.5 L291.3,594.3 L289.7,593.6 L288.1,593.9 L286.5,593.1 L286.0,593.0 L285.0,592.8 L283.4,592.4 L281.8,592.1 L280.2,592.5 L278.6,591.6 L277.0,591.7 L275.4,591.8 L273.8,591.2 L272.2,591.2 L270.6,590.2 L270.0,590.4 L269.1,590.1 L268.0,590.0 L267.5,589.4 L265.9,588.7 L264.3,588.7 L262.7,587.0 L261.1,586.4 L259.5,586.0 L258.0,585.0 L256.3,585.3 L254.7,585.3 L253.2,584.9 L251.6,584.8 L250.0,584.4 L248.4,583.6 L246.8,584.6 L245.2,584.1 L243.6,584.0 L242.0,584.0 L240.4,583.5 L238.8,583.0 L237.3,582.7 L235.7,581.9 L234.1,581.4 L232.5,581.8 L230.9,581.0 L230.0,581.0 L229.3,580.6 L227.7,580.4 L226.1,580.3 L224.5,579.8 L222.9,579.3 L221.4,578.8 L219.8,578.3 L218.0,578.0 L216.6,577.3 L215.0,576.6 L213.4,575.6 L211.8,573.6 L210.2,573.9 L208.6,572.0 L208.0,572.0 L207.0,570.7 L205.5,569.1 L203.9,569.0 L202.3,567.9 L200.7,566.3 L199.1,565.8 L198.0,564.5 L197.5,564.1 L195.9,563.5 L194.3,561.7 L192.7,561.1 L191.1,560.5 L190.0,559.5 L188.0,557.9 L186.4,556.5 L184.8,554.9 L183.2,553.4 L181.6,552.5 L180.0,551.0 L178.4,549.8 L176.8,549.3 L175.2,547.4 L173.7,545.8 L172.1,544.9 L170.5,543.4 L170.0,543.0 L168.9,541.8 L167.3,539.6 L165.7,539.4 L164.1,536.0 L162.5,534.9 L160.9,533.4 L160.0,532.0 L159.3,531.1 L157.8,528.8 L156.2,526.9 L154.6,525.0 L153.0,522.8 L152.0,522.0 L151.4,521.0 L149.8,519.0 L148.2,515.4 L147.0,513.6 L145.0,514.3 L143.4,513.1 L141.9,514.3 L140.3,514.4 L138.7,514.1 L138.0,514.4 L137.1,513.4 L135.5,512.4 L133.9,511.3 L132.3,511.2 L130.7,509.5 L129.1,508.1 L128.0,508.0 L127.5,507.7 L126.0,506.7 L124.4,505.3 L122.8,503.4 L121.2,503.8 L120.0,502.4Z" fill="#5656ff"/>
<path d="M120.0,294.4 L121.2,295.0 L122.8,295.2 L124.4,295.5 L126.0,295.7 L127.5,295.4 L128.0,296.0 L129.1,295.9 L130.7,296.0 L132.3,296.0 L134.0,296.4 L135.5,297.0 L137.1,298.0 L138.7,298.8 L140.3,299.4 L142.0,301.0 L143.4,302.4 L145.0,303.1 L146.6,303.8 L148.2,304.3 L149.8,306.3 L151.0,307.0 L153.0,311.1 L154.6,314.4 L156.0,317.0 L157.8,319.9 L159.3,321.7 L160.9,324.4 L162.5,326.6 L163.0,327.0 L164.1,327.7 L166.0,330.0 L167.3,331.7 L168.9,334.8 L170.5,337.6 L172.0,340.0 L173.7,340.2 L175.2,342.0 L176.0,342.0 L176.8,343.0 L178.4,344.9 L180.0,345.6 L181.6,347.9 L183.2,349.8 L184.8,351.4 L186.0,352.0 L188.0,354.5 L189.6,356.4 L191.1,358.7 L192.7,360.7 L194.0,362.0 L195.9,364.5 L197.5,367.5 L199.1,369.5 L200.0,371.0 L200.7,371.7 L202.3,372.9 L203.9,374.6 L205.5,375.7 L207.0,376.5 L208.6,378.0 L210.0,379.0 L211.8,380.3 L213.4,381.9 L215.0,383.4 L216.6,384.8 L218.2,385.8 L219.8,386.6 L221.0,388.0 L222.9,389.3 L224.5,390.4 L226.1,392.0 L227.7,392.0 L229.3,393.6 L230.9,394.5 L232.0,395.0 L232.5,394.7 L234.1,395.6 L235.7,396.6 L237.3,397.1 L238.8,397.9 L240.4,398.8 L242.0,399.1 L243.6,400.1 L245.2,400.5 L246.0,401.0 L246.8,401.1 L248.4,402.1 L250.0,402.3 L251.6,403.2 L253.2,404.2 L254.7,404.3 L256.3,404.8 L257.9,405.7 L259.5,406.0 L261.1,407.0 L262.0,407.0 L262.7,406.8 L264.3,407.9 L265.9,408.0 L267.5,408.4 L269.1,409.6 L270.0,409.4 L270.6,409.3 L272.2,410.3 L273.8,410.3 L275.4,410.8 L277.0,410.4 L278.6,411.3 L280.2,411.7 L282.0,411.6 L283.4,411.9 L285.0,413.0 L286.5,412.6 L288.1,412.8 L289.7,413.1 L291.3,413.7 L292.9,414.0 L294.5,414.3 L296.1,415.1 L298.0,415.0 L299.3,414.9 L300.9,414.9 L302.4,413.8 L304.0,414.1 L305.6,414.0 L307.2,412.8 L308.8,412.5 L310.0,412.6 L312.0,411.4 L313.6,411.6 L315.2,410.4 L316.8,410.6 L318.3,410.4 L319.9,409.0 L321.5,408.9 L323.1,407.9 L324.7,408.2 L326.0,407.6 L327.9,407.2 L329.5,407.0 L331.1,406.8 L332.7,406.3 L334.2,406.1 L335.8,405.6 L337.4,405.5 L339.0,404.8 L340.0,405.0 L340.6,404.9 L342.2,404.1 L343.8,404.2 L345.4,404.7 L347.0,403.9 L348.6,403.2 L350.1,403.4 L351.7,402.8 L353.3,402.3 L354.9,402.4 L356.0,402.4 L356.5,402.6 L358.1,402.5 L359.7,402.3 L361.3,402.0 L362.9,401.9 L364.5,402.6 L366.0,402.2 L367.6,401.8 L369.2,401.4 L370.0,402.0 L370.8,401.9 L372.4,403.6 L374.0,403.2 L375.6,404.1 L377.2,404.8 L378.0,405.0 L378.8,405.0 L380.4,405.2 L381.9,405.0 L383.5,405.3 L385.1,406.3 L386.7,405.8 L388.3,406.5 L390.0,406.4 L391.5,406.4 L393.1,406.6 L394.7,406.9 L396.3,406.3 L397.8,406.9 L399.4,406.9 L401.0,406.6 L402.6,407.0 L404.2,406.7 L406.0,407.0 L407.4,407.2 L409.0,406.7 L410.6,407.7 L412.2,407.7 L413.7,407.8 L415.3,408.4 L416.0,408.6 L416.9,408.8 L418.5,408.3 L420.1,408.7 L421.7,407.9 L423.3,407.8 L424.9,408.5 L426.0,408.0 L426.5,408.3 L428.1,408.9 L429.6,408.8 L431.2,409.8 L432.8,410.1 L434.4,410.7 L436.0,411.0 L437.6,411.8 L439.2,411.8 L440.0,412.2 L440.8,411.9 L442.4,411.8 L444.0,412.7 L445.5,412.2 L446.0,412.4 L447.1,412.6 L448.7,413.4 L450.3,414.3 L451.9,414.7 L453.5,415.8 L455.1,416.4 L456.0,417.0 L456.7,417.1 L458.3,417.7 L459.9,418.7 L461.4,419.2 L462.0,419.6 L463.0,419.2 L464.6,418.5 L466.2,417.9 L468.0,417.0 L469.4,417.5 L471.0,418.3 L472.6,419.5 L474.0,420.0 L475.8,421.7 L477.3,423.6 L478.9,425.3 L480.0,426.6 L480.5,427.1 L482.1,427.3 L483.7,428.4 L485.3,428.3 L486.0,429.0 L486.9,428.0 L488.5,428.1 L490.1,427.0 L491.7,426.2 L493.0,425.4 L494.8,425.9 L496.4,425.7 L498.0,426.7 L499.6,426.6 L501.2,427.3 L502.8,427.4 L504.4,427.1 L506.0,428.0 L507.6,428.3 L509.1,427.9 L510.7,427.7 L512.3,427.9 L513.9,427.6 L515.5,427.5 L517.1,427.7 L518.7,427.6 L520.3,428.0 L521.9,427.5 L523.5,428.0 L524.0,427.4 L525.0,427.7 L526.6,427.3 L528.2,426.7 L529.8,426.0 L531.4,425.6 L533.0,425.1 L534.6,424.5 L536.0,424.4 L537.8,424.3 L539.4,425.1 L540.9,424.8 L542.5,424.6 L544.1,424.2 L545.7,424.9 L547.3,424.8 L548.0,425.0 L548.9,424.5 L550.5,424.2 L552.1,423.6 L553.7,424.1 L555.3,423.6 L556.8,424.1 L558.4,423.0 L560.0,422.7 L561.6,422.9 L563.2,422.2 L564.0,422.0 L564.8,421.9 L566.4,421.3 L568.0,420.8 L569.6,421.1 L571.2,420.5 L572.7,420.3 L574.3,419.3 L575.9,419.0 L577.5,418.4 L579.1,418.5 L580.0,418.0 L580.7,417.4 L582.3,417.6 L583.9,417.4 L585.5,417.1 L587.1,416.0 L588.6,416.2 L590.2,415.2 L592.0,415.0 L593.4,414.4 L595.0,415.0 L596.6,415.0 L598.2,414.1 L599.8,413.9 L601.4,413.8 L603.0,414.5 L604.0,413.6 L604.5,413.8 L606.1,413.0 L607.7,412.4 L609.3,412.4 L610.9,412.7 L612.5,412.6 L614.1,411.7 L616.0,411.4 L617.3,411.1 L618.9,410.4 L620.4,411.0 L622.0,410.2 L623.6,410.6 L625.2,409.5 L626.8,409.4 L628.4,409.6 L630.0,409.1 L632.0,409.0 L633.2,408.5 L634.8,407.5 L636.3,407.4 L637.9,406.8 L639.5,405.3 L641.1,405.8 L642.7,404.7 L644.0,404.0 L645.9,403.0 L647.5,402.9 L649.1,402.6 L650.7,402.7 L652.2,401.5 L653.8,401.3 L655.4,400.5 L657.0,400.7 L658.6,400.5 L660.0,400.0 L661.8,399.2 L663.4,399.0 L665.0,398.7 L666.6,397.9 L668.1,397.1 L669.7,396.2 L671.3,395.8 L672.9,395.3 L674.5,395.0 L676.0,394.4 L677.7,394.2 L679.3,393.1 L680.9,392.0 L682.5,392.1 L684.0,391.2 L685.6,390.3 L687.2,389.4 L688.8,388.3 L690.0,388.4 L692.0,387.7 L693.6,386.4 L695.2,385.5 L696.8,385.2 L698.4,384.4 L699.9,383.8 L701.5,383.0 L703.1,382.4 L704.0,381.6 L704.7,381.0 L706.3,380.8 L707.9,379.5 L709.5,379.2 L711.1,378.3 L712.7,377.6 L714.3,377.1 L715.8,376.0 L717.4,375.6 L718.0,375.0 L719.0,374.5 L720.6,373.1 L722.2,371.7 L723.8,370.4 L725.4,369.3 L727.0,368.2 L728.6,367.1 L730.0,366.0 L731.7,364.7 L733.3,363.3 L734.9,361.5 L736.5,360.1 L738.1,358.9 L739.7,357.7 L741.3,355.9 L742.0,355.6 L742.9,355.3 L744.5,353.3 L746.1,352.3 L747.6,349.9 L749.2,349.2 L750.8,347.9 L752.4,346.5 L754.0,345.0 L755.6,343.2 L757.2,341.2 L758.8,338.7 L760.4,337.2 L762.0,334.8 L763.5,333.7 L764.0,333.0 L765.1,331.6 L766.7,329.3 L768.3,327.0 L770.0,325.0 L771.5,323.7 L773.1,321.7 L774.0,320.0 L774.7,319.0 L776.3,317.2 L777.9,314.1 L779.4,311.8 L781.0,310.0 L782.6,307.7 L784.0,306.0 L785.8,303.5 L787.4,302.2 L789.0,298.8 L790.6,296.8 L792.2,294.7 L794.0,292.0 L795.3,290.3 L796.9,288.1 L798.5,284.8 L800.1,282.9 L802.0,280.0 L803.3,279.0 L804.9,277.0 L806.5,275.6 L808.1,274.0 L810.0,273.0 L811.2,272.1 L812.8,270.8 L814.4,268.8 L816.0,268.1 L817.6,266.7 L819.2,265.2 L820.0,265.0 L820.8,264.3 L822.4,264.0 L824.0,263.2 L826.0,262.0 L827.1,262.1 L828.7,261.7 L830.3,261.8 L831.9,261.7 L833.0,261.6 L833.5,261.8 L833.5,346.3 L833.0,346.0 L831.9,346.2 L830.3,346.5 L828.7,347.1 L827.1,347.6 L825.6,348.2 L824.0,348.7 L822.0,349.0 L820.8,350.0 L819.2,351.2 L817.6,352.5 L816.0,354.2 L814.4,355.2 L812.8,356.1 L812.0,357.0 L811.2,357.6 L809.7,358.3 L808.1,360.0 L806.5,361.0 L804.9,361.9 L803.3,363.0 L802.0,364.0 L800.1,366.8 L798.5,369.1 L796.9,371.4 L795.3,373.1 L793.8,376.0 L792.2,377.7 L790.6,380.4 L790.0,381.0 L789.0,382.4 L787.4,384.2 L785.8,386.2 L784.2,388.4 L782.6,391.1 L781.0,392.9 L780.0,394.0 L779.4,394.6 L777.9,396.6 L776.3,398.5 L774.7,399.8 L773.1,402.4 L771.5,404.1 L770.0,406.0 L768.3,408.1 L766.7,409.4 L765.1,411.6 L763.5,413.5 L762.0,415.9 L760.0,418.0 L758.8,418.9 L757.2,420.9 L755.6,421.7 L754.0,423.5 L752.4,424.7 L750.8,426.2 L749.2,427.6 L747.6,428.6 L746.0,430.0 L744.5,430.9 L742.9,432.8 L741.3,434.2 L739.7,435.4 L738.1,436.4 L736.5,437.8 L734.9,439.7 L734.0,440.0 L733.3,440.9 L731.7,441.2 L730.2,441.9 L728.6,443.3 L727.0,444.3 L726.0,445.0 L725.4,445.4 L723.8,446.6 L722.2,447.0 L720.6,448.8 L719.0,450.2 L717.4,451.3 L715.8,451.7 L714.3,453.2 L712.7,455.0 L712.0,455.0 L711.1,455.5 L709.5,457.5 L707.9,458.7 L706.0,460.0 L704.7,461.0 L703.1,460.9 L701.5,462.1 L699.9,462.2 L698.4,463.4 L696.8,463.4 L696.0,464.0 L695.2,464.4 L693.6,465.6 L692.0,466.3 L690.4,467.2 L688.8,468.4 L687.2,469.2 L685.6,469.9 L684.0,470.6 L682.5,471.6 L680.9,472.4 L680.0,473.0 L679.3,473.4 L677.7,474.1 L676.1,475.3 L674.5,475.9 L672.9,476.4 L671.3,477.7 L669.7,478.6 L668.1,478.9 L666.6,480.2 L665.0,480.4 L664.0,481.0 L663.4,481.3 L661.8,482.0 L660.2,482.5 L658.6,483.9 L657.0,483.9 L655.4,485.4 L653.8,486.0 L652.2,486.8 L650.7,487.6 L649.1,488.7 L648.0,489.0 L647.5,489.5 L645.9,490.3 L644.3,490.7 L642.7,491.3 L641.1,491.6 L639.5,492.7 L637.9,493.2 L636.3,494.2 L634.8,494.8 L633.2,495.9 L632.0,496.0 L630.0,496.5 L628.4,497.6 L626.8,498.1 L625.2,498.7 L623.6,499.0 L622.0,499.5 L620.4,500.5 L618.9,500.6 L617.3,501.8 L616.0,502.0 L614.1,503.1 L612.5,503.9 L610.9,503.9 L609.3,504.8 L607.7,505.7 L606.1,506.5 L604.5,507.5 L603.0,507.4 L601.4,508.2 L600.0,509.0 L598.2,509.6 L596.6,510.6 L595.0,511.2 L593.4,511.4 L591.8,511.7 L590.2,512.5 L588.6,513.2 L587.1,513.9 L585.5,514.4 L584.0,515.0 L582.3,515.1 L580.7,517.0 L579.1,517.0 L577.5,518.4 L575.9,518.8 L574.3,519.0 L572.7,519.9 L571.2,520.5 L570.0,521.0 L568.0,521.5 L566.4,522.7 L564.8,522.9 L563.2,523.4 L561.6,524.3 L560.0,524.3 L558.4,525.1 L556.8,526.2 L555.3,526.4 L554.0,527.0 L552.1,527.4 L550.5,528.7 L548.9,528.7 L547.3,529.1 L545.7,530.0 L544.1,530.0 L542.5,531.4 L540.9,531.6 L540.0,532.0 L539.4,532.1 L537.8,532.6 L536.2,532.6 L534.6,533.2 L533.0,533.6 L531.4,534.1 L529.8,533.4 L528.2,534.4 L526.6,534.8 L526.0,535.0 L525.0,535.1 L523.5,535.4 L521.9,536.0 L520.3,536.2 L518.7,536.4 L517.1,536.3 L515.5,536.6 L513.9,537.9 L512.3,537.1 L510.7,538.1 L510.0,538.0 L509.1,538.0 L507.6,538.2 L506.0,539.0 L504.4,539.3 L502.8,540.0 L501.2,539.6 L499.6,540.6 L498.0,540.4 L496.4,540.8 L494.8,541.5 L494.0,541.6 L493.2,542.2 L491.7,542.8 L490.1,543.3 L488.5,544.8 L486.9,545.9 L485.3,546.6 L484.0,547.0 L482.1,546.8 L480.5,546.4 L478.9,545.7 L477.3,544.9 L475.8,544.8 L474.2,544.3 L472.6,544.2 L471.0,543.4 L470.0,543.0 L469.4,543.3 L467.8,543.8 L466.2,544.6 L464.6,545.0 L463.0,545.7 L461.4,546.7 L460.0,547.6 L458.3,547.7 L456.7,547.7 L455.1,547.9 L453.5,547.7 L451.9,548.1 L450.0,548.0 L448.7,548.1 L447.1,548.7 L445.5,548.7 L444.0,549.0 L442.4,548.7 L440.8,549.4 L440.0,549.0 L439.2,549.0 L437.6,549.1 L436.0,549.3 L434.4,549.1 L432.8,549.5 L431.2,549.1 L429.6,549.4 L428.1,549.3 L426.5,549.9 L424.9,549.7 L423.3,549.6 L422.0,549.6 L420.1,550.0 L418.5,549.9 L416.9,550.4 L415.3,550.6 L413.7,550.1 L412.2,550.9 L410.6,550.8 L409.0,551.0 L407.4,551.8 L406.0,551.6 L404.2,551.2 L402.6,550.6 L401.0,551.3 L399.4,550.3 L397.8,550.7 L396.3,550.4 L394.7,550.5 L393.1,549.5 L391.5,549.3 L389.9,549.4 L388.3,548.9 L386.7,548.4 L385.1,548.7 L383.5,548.2 L382.0,548.0 L380.4,547.7 L378.8,547.9 L377.2,547.5 L375.6,547.5 L374.0,547.1 L372.4,547.3 L370.8,547.3 L369.2,546.8 L367.6,546.5 L366.0,546.5 L364.5,546.9 L364.0,546.4 L362.9,546.6 L361.3,545.9 L359.7,545.1 L358.1,545.1 L356.5,544.9 L354.9,544.7 L353.3,544.3 L351.7,544.2 L350.1,543.9 L348.6,543.2 L347.0,543.3 L346.0,543.0 L345.4,543.3 L343.8,542.4 L342.2,542.2 L340.6,541.6 L339.0,541.9 L337.4,541.5 L335.8,541.9 L334.2,541.1 L332.7,541.3 L331.1,540.9 L329.5,540.5 L327.9,539.7 L326.0,540.0 L324.7,539.7 L323.1,539.8 L321.5,539.6 L319.9,539.7 L318.3,540.3 L316.8,539.7 L315.2,539.8 L313.6,539.8 L312.0,539.4 L310.4,539.4 L308.8,538.8 L307.2,539.3 L306.0,539.0 L304.0,538.5 L302.4,537.7 L300.9,538.0 L299.3,537.3 L297.7,536.9 L296.1,536.7 L294.5,535.7 L292.9,535.5 L291.3,535.3 L289.7,534.6 L288.1,534.7 L286.5,534.0 L286.0,534.0 L285.0,533.6 L283.4,533.4 L281.8,533.2 L280.2,532.8 L278.6,532.1 L277.0,531.9 L275.4,531.5 L273.8,531.0 L272.2,530.6 L270.6,529.7 L270.0,530.0 L269.1,529.0 L268.0,528.0 L267.5,528.2 L265.9,527.7 L264.3,526.5 L262.7,526.0 L261.1,525.3 L259.5,525.1 L257.9,524.2 L256.3,523.8 L254.7,523.5 L254.0,523.0 L253.2,522.4 L251.6,522.1 L250.0,521.7 L248.4,521.5 L246.8,521.4 L245.2,520.7 L243.6,520.2 L242.0,519.2 L240.0,519.0 L238.8,518.3 L237.3,518.5 L235.7,517.9 L234.1,517.0 L232.5,516.8 L230.9,516.3 L229.3,515.6 L228.0,515.0 L226.1,514.2 L224.5,513.2 L222.9,512.7 L221.4,511.5 L219.8,511.1 L218.2,510.4 L216.6,509.7 L216.0,509.0 L215.0,508.3 L213.4,508.2 L211.8,507.2 L210.2,506.2 L208.6,505.2 L207.0,504.4 L205.5,503.5 L204.0,503.0 L202.3,501.5 L200.7,501.2 L199.1,499.5 L197.5,498.4 L195.9,497.0 L194.0,496.0 L192.7,494.7 L191.1,492.7 L189.6,490.8 L188.0,489.4 L186.0,487.0 L184.8,485.4 L183.2,484.2 L181.6,481.9 L180.0,480.4 L178.4,478.7 L176.8,476.8 L176.0,476.0 L175.2,475.1 L173.7,473.0 L172.1,472.0 L170.5,469.6 L168.9,468.0 L167.3,465.0 L166.0,464.0 L164.1,460.5 L162.5,458.0 L160.9,455.5 L159.3,453.0 L158.0,450.5 L156.2,447.5 L154.6,445.2 L153.0,442.8 L151.4,440.4 L150.0,438.0 L148.2,436.8 L146.6,435.1 L145.0,433.9 L143.4,432.8 L142.0,431.6 L140.3,431.2 L138.7,430.4 L137.1,429.9 L135.5,429.0 L133.9,428.9 L132.3,428.3 L130.7,427.3 L130.0,427.0 L129.1,426.5 L127.5,425.9 L126.0,424.9 L124.4,424.5 L122.8,423.7 L121.2,423.1 L120.0,422.6Z" fill="#2b2bff"/>
<path d="M120.0,422.6 L121.2,423.1 L122.8,423.7 L124.4,424.5 L126.0,424.9 L127.5,425.9 L129.1,426.5 L130.0,427.0 L130.7,427.3 L132.3,428.3 L133.9,428.9 L135.5,429.0 L137.1,429.9 L138.7,430.4 L140.3,431.2 L142.0,431.6 L143.4,432.8 L145.0,433.9 L146.6,435.1 L148.2,436.8 L150.0,438.0 L151.4,440.4 L153.0,442.8 L154.6,445.2 L156.2,447.5 L158.0,450.5 L159.3,453.0 L160.9,455.5 L162.5,458.0 L164.1,460.5 L166.0,464.0 L167.3,465.0 L168.9,468.0 L170.5,469.6 L172.1,472.0 L173.7,473.0 L175.2,475.1 L176.0,476.0 L176.8,476.8 L178.4,478.7 L180.0,480.4 L181.6,481.9 L183.2,484.2 L184.8,485.4 L186.0,487.0 L188.0,489.4 L189.6,490.8 L191.1,492.7 L192.7,494.7 L194.0,496.0 L195.9,497.0 L197.5,498.4 L199.1,499.5 L200.7,501.2 L202.3,501.5 L204.0,503.0 L205.5,503.5 L207.0,504.4 L208.6,505.2 L210.2,506.2 L211.8,507.2 L213.4,508.2 L215.0,508.3 L216.0,509.0 L216.6,509.7 L218.2,510.4 L219.8,511.1 L221.4,511.5 L222.9,512.7 L224.5,513.2 L226.1,514.2 L228.0,515.0 L229.3,515.6 L230.9,516.3 L232.5,516.8 L234.1,517.0 L235.7,517.9 L237.3,518.5 L238.8,518.3 L240.0,519.0 L242.0,519.2 L243.6,520.2 L245.2,520.7 L246.8,521.4 L248.4,521.5 L250.0,521.7 L251.6,522.1 L253.2,522.4 L254.0,523.0 L254.7,523.5 L256.3,523.8 L257.9,524.2 L259.5,525.1 L261.1,525.3 L262.7,526.0 L264.3,526.5 L265.9,527.7 L267.5,528.2 L268.0,528.0 L269.1,529.0 L270.0,530.0 L270.6,529.7 L272.2,530.6 L273.8,531.0 L275.4,531.5 L277.0,531.9 L278.6,532.1 L280.2,532.8 L281.8,533.2 L283.4,533.4 L285.0,533.6 L286.0,534.0 L286.5,534.0 L288.1,534.7 L289.7,534.6 L291.3,535.3 L292.9,535.5 L294.5,535.7 L296.1,536.7 L297.7,536.9 L299.3,537.3 L300.9,538.0 L302.4,537.7 L304.0,538.5 L306.0,539.0 L307.2,539.3 L308.8,538.8 L310.4,539.4 L312.0,539.4 L313.6,539.8 L315.2,539.8 L316.8,539.7 L318.3,540.3 L319.9,539.7 L321.5,539.6 L323.1,539.8 L324.7,539.7 L326.0,540.0 L327.9,539.7 L329.5,540.5 L331.1,540.9 L332.7,541.3 L334.2,541.1 L335.8,541.9 L337.4,541.5 L339.0,541.9 L340.6,541.6 L342.2,542.2 L343.8,542.4 L345.4,543.3 L346.0,543.0 L347.0,543.3 L348.6,543.2 L350.1,543.9 L351.7,544.2 L353.3,544.3 L354.9,544.7 L356.5,544.9 L358.1,545.1 L359.7,545.1 L361.3,545.9 L362.9,546.6 L364.0,546.4 L364.5,546.9 L366.0,546.5 L367.6,546.5 L369.2,546.8 L370.8,547.3 L372.4,547.3 L374.0,547.1 L375.6,547.5 L377.2,547.5 L378.8,547.9 L380.4,547.7 L382.0,548.0 L383.5,548.2 L385.1,548.7 L386.7,548.4 L388.3,548.9 L389.9,549.4 L391.5,549.3 L393.1,549.5 L394.7,550.5 L396.3,550.4 L397.8,550.7 L399.4,550.3 L401.0,551.3 L402.6,550.6 L404.2,551.2 L406.0,551.6 L407.4,551.8 L409.0,551.0 L410.6,550.8 L412.2,550.9 L413.7,550.1 L415.3,550.6 L416.9,550.4 L418.5,549.9 L420.1,550.0 L422.0,549.6 L423.3,549.6 L424.9,549.7 L426.5,549.9 L428.1,549.3 L429.6,549.4 L431.2,549.1 L432.8,549.5 L434.4,549.1 L436.0,549.3 L437.6,549.1 L439.2,549.0 L440.0,549.0 L440.8,549.4 L442.4,548.7 L444.0,549.0 L445.5,548.7 L447.1,548.7 L448.7,548.1 L450.0,548.0 L451.9,548.1 L453.5,547.7 L455.1,547.9 L456.7,547.7 L458.3,547.7 L460.0,547.6 L461.4,546.7 L463.0,545.7 L464.6,545.0 L466.2,544.6 L467.8,543.8 L469.4,543.3 L470.0,543.0 L471.0,543.4 L472.6,544.2 L474.2,544.3 L475.8,544.8 L477.3,544.9 L478.9,545.7 L480.5,546.4 L482.1,546.8 L484.0,547.0 L485.3,546.6 L486.9,545.9 L488.5,544.8 L490.1,543.3 L491.7,542.8 L493.2,542.2 L494.0,541.6 L494.8,541.5 L496.4,540.8 L498.0,540.4 L499.6,540.6 L501.2,539.6 L502.8,540.0 L504.4,539.3 L506.0,539.0 L507.6,538.2 L509.1,538.0 L510.0,538.0 L510.7,538.1 L512.3,537.1 L513.9,537.9 L515.5,536.6 L517.1,536.3 L518.7,536.4 L520.3,536.2 L521.9,536.0 L523.5,535.4 L525.0,535.1 L526.0,535.0 L526.6,534.8 L528.2,534.4 L529.8,533.4 L531.4,534.1 L533.0,533.6 L534.6,533.2 L536.2,532.6 L537.8,532.6 L539.4,532.1 L540.0,532.0 L540.9,531.6 L542.5,531.4 L544.1,530.0 L545.7,530.0 L547.3,529.1 L548.9,528.7 L550.5,528.7 L552.1,527.4 L554.0,527.0 L555.3,526.4 L556.8,526.2 L558.4,525.1 L560.0,524.3 L561.6,524.3 L563.2,523.4 L564.8,522.9 L566.4,522.7 L568.0,521.5 L570.0,521.0 L571.2,520.5 L572.7,519.9 L574.3,519.0 L575.9,518.8 L577.5,518.4 L579.1,517.0 L580.7,517.0 L582.3,515.1 L584.0,515.0 L585.5,514.4 L587.1,513.9 L588.6,513.2 L590.2,512.5 L591.8,511.7 L593.4,511.4 L595.0,511.2 L596.6,510.6 L598.2,509.6 L600.0,509.0 L601.4,508.2 L603.0,507.4 L604.5,507.5 L606.1,506.5 L607.7,505.7 L609.3,504.8 L610.9,503.9 L612.5,503.9 L614.1,503.1 L616.0,502.0 L617.3,501.8 L618.9,500.6 L620.4,500.5 L622.0,499.5 L623.6,499.0 L625.2,498.7 L626.8,498.1 L628.4,497.6 L630.0,496.5 L632.0,496.0 L633.2,495.9 L634.8,494.8 L636.3,494.2 L637.9,493.2 L639.5,492.7 L641.1,491.6 L642.7,491.3 L644.3,490.7 L645.9,490.3 L647.5,489.5 L648.0,489.0 L649.1,488.7 L650.7,487.6 L652.2,486.8 L653.8,486.0 L655.4,485.4 L657.0,483.9 L658.6,483.9 L660.2,482.5 L661.8,482.0 L663.4,481.3 L664.0,481.0 L665.0,480.4 L666.6,480.2 L668.1,478.9 L669.7,478.6 L671.3,477.7 L672.9,476.4 L674.5,475.9 L676.1,475.3 L677.7,474.1 L679.3,473.4 L680.0,473.0 L680.9,472.4 L682.5,471.6 L684.0,470.6 L685.6,469.9 L687.2,469.2 L688.8,468.4 L690.4,467.2 L692.0,466.3 L693.6,465.6 L695.2,464.4 L696.0,464.0 L696.8,463.4 L698.4,463.4 L699.9,462.2 L701.5,462.1 L703.1,460.9 L704.7,461.0 L706.0,460.0 L707.9,458.7 L709.5,457.5 L711.1,455.5 L712.0,455.0 L712.7,455.0 L714.3,453.2 L715.8,451.7 L717.4,451.3 L719.0,450.2 L720.6,448.8 L722.2,447.0 L723.8,446.6 L725.4,445.4 L726.0,445.0 L727.0,444.3 L728.6,443.3 L730.2,441.9 L731.7,441.2 L733.3,440.9 L734.0,440.0 L734.9,439.7 L736.5,437.8 L738.1,436.4 L739.7,435.4 L741.3,434.2 L742.9,432.8 L744.5,430.9 L746.0,430.0 L747.6,428.6 L749.2,427.6 L750.8,426.2 L752.4,424.7 L754.0,423.5 L755.6,421.7 L757.2,420.9 L758.8,418.9 L760.0,418.0 L762.0,415.9 L763.5,413.5 L765.1,411.6 L766.7,409.4 L768.3,408.1 L770.0,406.0 L771.5,404.1 L773.1,402.4 L774.7,399.8 L776.3,398.5 L777.9,396.6 L779.4,394.6 L780.0,394.0 L781.0,392.9 L782.6,391.1 L784.2,388.4 L785.8,386.2 L787.4,384.2 L789.0,382.4 L790.0,381.0 L790.6,380.4 L792.2,377.7 L793.8,376.0 L795.3,373.1 L796.9,371.4 L798.5,369.1 L800.1,366.8 L802.0,364.0 L803.3,363.0 L804.9,361.9 L806.5,361.0 L808.1,360.0 L809.7,358.3 L811.2,357.6 L812.0,357.0 L812.8,356.1 L814.4,355.2 L816.0,354.2 L817.6,352.5 L819.2,351.2 L820.8,350.0 L822.0,349.0 L824.0,348.7 L825.6,348.2 L827.1,347.6 L828.7,347.1 L830.3,346.5 L831.9,346.2 L833.0,346.0 L833.5,346.3" fill="none" stroke="#6e6eff" stroke-width="1.6" stroke-dasharray="7.2 3.1"/>
<path d="M120.0,502.4 L121.2,503.8 L122.8,503.4 L124.4,505.3 L126.0,506.7 L127.5,507.7 L128.0,508.0 L129.1,508.1 L130.7,509.5 L132.3,511.2 L133.9,511.3 L135.5,512.4 L137.1,513.4 L138.0,514.4 L138.7,514.1 L140.3,514.4 L141.9,514.3 L143.4,513.1 L145.0,514.3 L147.0,513.6 L148.2,515.4 L149.8,519.0 L151.4,521.0 L152.0,522.0 L153.0,522.8 L154.6,525.0 L156.2,526.9 L157.8,528.8 L159.3,531.1 L160.0,532.0 L160.9,533.4 L162.5,534.9 L164.1,536.0 L165.7,539.4 L167.3,539.6 L168.9,541.8 L170.0,543.0 L170.5,543.4 L172.1,544.9 L173.7,545.8 L175.2,547.4 L176.8,549.3 L178.4,549.8 L180.0,551.0 L181.6,552.5 L183.2,553.4 L184.8,554.9 L186.4,556.5 L188.0,557.9 L190.0,559.5 L191.1,560.5 L192.7,561.1 L194.3,561.7 L195.9,563.5 L197.5,564.1 L198.0,564.5 L199.1,565.8 L200.7,566.3 L202.3,567.9 L203.9,569.0 L205.5,569.1 L207.0,570.7 L208.0,572.0 L208.6,572.0 L210.2,573.9 L211.8,573.6 L213.4,575.6 L215.0,576.6 L216.6,577.3 L218.0,578.0 L219.8,578.3 L221.4,578.8 L222.9,579.3 L224.5,579.8 L226.1,580.3 L227.7,580.4 L229.3,580.6 L230.0,581.0 L230.9,581.0 L232.5,581.8 L234.1,581.4 L235.7,581.9 L237.3,582.7 L238.8,583.0 L240.4,583.5 L242.0,584.0 L243.6,584.0 L245.2,584.1 L246.8,584.6 L248.4,583.6 L250.0,584.4 L251.6,584.8 L253.2,584.9 L254.7,585.3 L256.3,585.3 L258.0,585.0 L259.5,586.0 L261.1,586.4 L262.7,587.0 L264.3,588.7 L265.9,588.7 L267.5,589.4 L268.0,590.0 L269.1,590.1 L270.0,590.4 L270.6,590.2 L272.2,591.2 L273.8,591.2 L275.4,591.8 L277.0,591.7 L278.6,591.6 L280.2,592.5 L281.8,592.1 L283.4,592.4 L285.0,592.8 L286.0,593.0 L286.5,593.1 L288.1,593.9 L289.7,593.6 L291.3,594.3 L292.9,594.5 L294.5,594.3 L296.1,594.7 L297.7,595.4 L299.3,596.0 L300.9,596.3 L302.0,596.4 L304.0,596.4 L305.6,596.2 L307.2,596.5 L308.8,595.9 L310.4,595.7 L312.0,596.1 L313.6,595.7 L315.2,596.0 L316.8,595.9 L318.3,595.9 L319.9,596.1 L321.5,595.8 L323.1,595.9 L324.7,595.4 L326.0,596.0 L327.9,595.9 L329.5,596.6 L331.1,595.5 L332.7,596.5 L334.2,597.0 L335.8,596.2 L337.4,597.2 L339.0,597.5 L340.0,597.6 L340.6,597.6 L342.2,596.9 L343.8,597.5 L345.4,597.4 L347.0,596.9 L348.6,597.5 L350.1,597.2 L351.7,597.1 L353.3,596.9 L354.9,597.2 L356.5,597.0 L358.1,597.3 L359.7,597.0 L361.3,596.5 L362.9,596.6 L364.5,597.0 L366.0,596.4 L367.6,596.6 L369.2,596.6 L370.0,596.4 L370.8,596.4 L372.4,595.7 L374.0,596.8 L375.6,596.9 L377.2,597.0 L378.8,596.8 L380.4,597.7 L381.9,597.3 L383.5,597.2 L385.1,597.3 L386.7,597.9 L388.3,597.4 L390.0,598.0 L391.5,598.9 L393.1,598.8 L394.7,598.8 L396.3,599.1 L397.8,598.9 L399.4,598.2 L401.0,599.4 L402.6,599.6 L404.2,599.4 L406.0,599.4 L407.4,599.7 L409.0,599.6 L410.6,598.7 L412.2,598.7 L413.7,598.8 L415.3,598.2 L416.9,598.5 L418.5,597.9 L420.1,598.0 L421.7,597.5 L423.3,596.8 L424.9,596.7 L426.0,597.0 L426.5,598.2 L428.1,596.9 L429.6,597.2 L431.2,597.0 L432.8,597.1 L434.4,596.5 L436.0,595.9 L437.6,596.0 L439.2,595.1 L440.0,595.8 L440.8,595.7 L442.4,596.1 L444.0,594.9 L445.5,595.8 L447.1,596.0 L448.7,596.1 L450.0,595.6 L451.9,595.0 L453.5,594.3 L455.1,594.4 L456.7,594.7 L458.3,595.1 L460.0,594.0 L461.4,594.0 L463.0,593.0 L464.6,592.0 L466.2,592.4 L467.8,589.9 L469.4,590.2 L470.0,590.0 L471.0,590.3 L472.6,591.3 L474.2,591.5 L475.8,592.0 L477.3,591.5 L478.9,592.2 L480.5,592.6 L482.0,592.4 L483.7,591.9 L485.3,591.1 L486.9,590.5 L488.5,589.5 L490.1,590.2 L491.7,588.7 L493.2,587.5 L494.0,588.0 L494.8,587.9 L496.4,587.4 L498.0,587.1 L499.6,587.3 L501.2,586.2 L502.8,585.7 L504.4,585.1 L506.0,585.0 L507.6,584.4 L509.1,584.3 L510.0,584.0 L510.7,585.1 L512.3,583.7 L513.9,582.9 L515.5,583.7 L517.1,583.0 L518.7,582.7 L520.3,582.4 L521.9,582.1 L523.5,581.7 L525.0,581.7 L526.0,581.0 L526.6,581.3 L528.2,581.1 L529.8,580.1 L531.4,580.0 L533.0,579.4 L534.6,579.8 L536.2,579.4 L537.8,578.6 L539.4,578.7 L540.0,578.4 L540.9,579.1 L542.5,577.9 L544.1,576.4 L545.7,576.2 L547.3,575.8 L548.9,575.0 L550.5,574.5 L552.1,574.2 L554.0,573.0 L555.3,572.1 L556.8,572.3 L558.4,571.4 L560.0,570.9 L561.6,570.1 L563.2,569.2 L564.8,568.7 L566.4,568.4 L568.0,568.0 L569.6,566.2 L571.2,566.9 L572.7,565.2 L574.3,564.6 L575.9,564.2 L577.5,562.3 L579.1,563.0 L580.7,561.4 L582.3,561.1 L584.0,560.0 L585.5,559.6 L587.1,559.0 L588.6,558.3 L590.2,557.1 L591.8,556.6 L593.4,556.6 L595.0,556.6 L596.6,555.3 L598.0,555.0 L599.8,554.0 L601.4,553.2 L603.0,552.5 L604.5,550.6 L606.1,550.4 L607.7,549.3 L609.3,548.3 L610.0,548.0 L610.9,547.5 L612.5,547.3 L614.1,546.9 L616.0,547.0 L617.3,547.5 L618.9,546.6 L620.4,545.3 L622.0,545.0 L623.6,543.8 L625.2,542.5 L626.8,542.2 L628.4,542.4 L630.0,542.3 L632.0,541.0 L633.2,540.1 L634.8,539.7 L636.3,538.7 L637.9,537.9 L639.5,537.6 L641.1,536.9 L642.7,536.0 L644.3,535.3 L645.9,534.6 L647.5,534.3 L648.0,534.0 L649.1,533.9 L650.7,532.4 L652.2,532.5 L653.8,530.1 L655.4,529.9 L657.0,528.5 L658.6,528.0 L660.2,527.2 L661.8,526.5 L663.4,525.8 L664.0,525.0 L665.0,524.3 L666.6,523.2 L668.1,522.9 L669.7,522.2 L671.3,521.1 L672.9,520.9 L674.5,520.4 L676.0,519.0 L677.7,517.9 L679.3,516.9 L680.9,514.6 L682.5,514.2 L684.0,512.9 L685.6,511.2 L687.2,511.1 L688.0,510.0 L688.8,509.6 L690.4,508.3 L692.0,507.7 L693.6,506.8 L695.2,505.8 L696.8,504.7 L698.4,503.7 L699.9,502.1 L701.5,501.4 L703.1,500.6 L704.0,500.0 L704.7,498.5 L706.3,499.4 L707.9,497.4 L709.5,496.2 L711.1,494.9 L712.7,494.7 L714.3,493.6 L715.8,492.4 L717.4,491.4 L719.0,490.3 L720.0,490.0 L720.6,489.2 L722.2,488.3 L723.8,486.9 L725.4,486.2 L727.0,484.7 L728.6,483.6 L730.2,482.5 L732.0,481.0 L733.3,479.8 L734.9,477.9 L736.5,476.0 L738.1,474.1 L739.7,472.5 L741.3,471.2 L742.9,469.3 L744.0,468.0 L744.5,467.5 L746.1,465.8 L747.6,464.5 L749.2,463.9 L750.8,462.9 L752.4,461.4 L754.0,460.0 L755.6,457.5 L757.2,455.3 L758.0,454.0 L758.8,453.0 L760.4,452.1 L762.0,450.5 L763.5,448.8 L765.1,447.3 L766.0,447.0 L766.7,446.5 L768.3,444.6 L769.9,442.4 L771.5,440.6 L773.1,439.6 L774.7,437.7 L776.0,436.0 L777.9,434.4 L779.4,431.8 L781.0,429.6 L782.6,428.5 L784.2,426.1 L786.0,424.0 L787.4,421.9 L789.0,419.1 L790.6,416.7 L792.2,414.7 L794.0,412.0 L795.3,410.1 L796.9,409.2 L798.5,407.0 L800.1,404.7 L802.0,403.0 L803.3,402.6 L804.9,401.2 L806.5,399.9 L808.1,400.1 L809.7,398.7 L811.2,398.6 L812.0,398.0 L812.8,396.7 L814.4,396.4 L816.0,395.1 L817.6,393.8 L819.2,393.3 L820.8,392.4 L822.0,391.6 L824.0,391.0 L825.6,391.5 L827.1,390.6 L828.7,391.4 L830.3,391.3 L831.9,391.7 L833.0,391.0 L833.5,391.3" fill="none" stroke="#7a7aff" stroke-width="1.3" stroke-dasharray="5.65 2.44"/>
<path d="M120.0,557.0 L121.2,557.3 L122.8,557.3 L124.4,556.9 L126.0,558.4 L127.5,558.2 L129.1,558.0 L130.0,558.2 L130.7,557.9 L132.3,559.8 L133.9,559.9 L135.5,559.6 L137.1,561.1 L139.0,561.5 L140.3,560.9 L141.9,560.4 L143.4,559.4 L145.0,558.6 L147.0,558.0 L148.2,560.3 L149.8,559.9 L151.4,560.9 L153.0,562.0 L154.6,563.6 L156.2,565.9 L157.8,567.7 L159.3,568.6 L160.9,570.3 L162.0,572.0 L162.5,572.4 L164.1,574.3 L165.7,575.5 L167.3,577.4 L168.9,577.5 L170.5,579.9 L172.0,581.0 L173.7,582.5 L175.2,584.0 L176.8,584.8 L178.4,586.5 L180.0,588.0 L181.6,589.7 L183.2,590.8 L184.8,592.5 L186.4,594.5 L188.0,595.7 L190.0,598.0 L191.1,597.8 L192.7,598.8 L194.3,598.7 L195.9,598.2 L197.5,598.8 L198.0,599.0 L199.1,599.7 L200.7,601.5 L202.3,603.1 L203.9,605.8 L205.5,606.3 L206.0,607.0 L207.0,608.5 L208.6,609.0 L210.2,609.2 L211.8,609.8 L213.4,612.3 L215.0,612.0 L216.6,614.4 L218.0,615.0 L219.8,615.6 L221.4,615.7 L222.9,616.1 L224.5,616.8 L226.1,616.9 L227.7,617.2 L229.3,617.6 L230.0,618.0 L230.9,618.8 L232.5,618.2 L234.1,619.1 L235.7,618.7 L237.3,619.2 L238.8,619.2 L240.4,620.1 L242.0,620.9 L244.0,621.0 L245.2,620.9 L246.8,621.6 L248.4,621.3 L250.0,621.8 L251.6,621.9 L253.2,622.2 L254.7,620.9 L256.3,621.6 L258.0,622.4 L259.5,622.7 L261.1,624.3 L262.7,623.5 L264.3,623.8 L265.9,625.2 L267.5,625.1 L269.1,626.2 L270.0,625.5 L270.6,625.7 L272.2,625.3 L273.8,625.7 L275.4,624.8 L277.0,624.9 L278.6,624.8 L280.0,625.0 L281.8,625.6 L283.4,625.2 L285.0,625.8 L286.5,625.7 L288.1,626.6 L290.0,626.4 L291.3,626.6 L292.9,627.1 L294.5,626.8 L296.1,628.1 L297.7,628.0 L299.3,628.9 L300.9,629.0 L302.4,629.2 L304.0,629.1 L306.0,629.6 L307.2,629.4 L308.8,629.2 L310.4,629.4 L312.0,628.9 L313.6,630.5 L315.2,628.1 L316.8,629.3 L318.3,628.4 L319.9,628.4 L321.5,628.8 L323.1,628.2 L324.7,627.5 L326.0,628.0 L327.9,628.4 L329.5,627.9 L331.1,629.4 L332.7,629.2 L334.2,629.7 L335.8,630.7 L337.4,631.0 L338.0,631.0 L339.0,630.8 L340.6,631.9 L342.2,630.9 L343.8,630.3 L345.4,630.7 L347.0,630.4 L348.6,629.3 L350.1,629.5 L351.7,629.5 L353.3,631.0 L354.0,630.0 L354.9,629.9 L356.5,629.7 L358.1,629.5 L359.7,630.2 L361.3,629.6 L362.9,630.4 L364.5,629.9 L366.0,630.2 L367.6,629.3 L369.2,629.4 L370.8,629.0 L372.4,629.0 L374.0,629.0 L375.6,628.9 L377.2,628.9 L378.8,629.3 L380.4,630.4 L381.9,630.1 L383.5,630.8 L385.1,630.8 L386.7,631.0 L388.3,631.3 L390.0,631.0 L391.5,631.5 L393.1,631.1 L394.7,631.2 L396.3,632.1 L397.8,632.7 L399.4,631.4 L401.0,632.8 L402.6,632.5 L404.2,631.8 L406.0,632.4 L407.4,632.4 L409.0,632.3 L410.6,631.8 L412.2,631.2 L413.7,631.6 L415.3,631.9 L416.9,631.7 L418.5,631.5 L420.1,631.5 L421.7,630.4 L423.3,630.7 L424.9,630.7 L426.0,630.4 L426.5,630.8 L428.1,630.3 L429.6,630.4 L431.2,630.1 L432.8,630.9 L434.4,628.7 L436.0,629.6 L437.6,630.7 L439.2,629.5 L440.0,629.3 L440.8,628.2 L442.4,628.7 L444.0,627.5 L445.5,627.4 L446.0,627.6 L447.1,628.0 L448.7,629.2 L450.3,629.1 L451.9,629.7 L453.5,630.3 L454.0,630.0 L455.1,629.7 L456.7,628.6 L458.3,628.4 L459.9,628.0 L461.4,627.1 L463.0,626.3 L464.6,625.8 L466.2,624.7 L467.8,624.3 L469.4,624.2 L470.0,624.0 L471.0,624.0 L472.6,624.4 L474.2,625.4 L475.8,625.1 L477.3,625.2 L478.9,624.9 L480.5,625.2 L482.0,626.0 L483.7,625.0 L485.3,625.0 L486.9,623.7 L488.5,623.8 L490.1,623.1 L491.7,623.0 L493.2,621.8 L494.8,621.2 L496.0,621.0 L498.0,620.6 L499.6,621.0 L501.2,619.7 L502.8,619.2 L504.4,619.0 L506.0,619.0 L507.6,618.5 L509.1,618.4 L510.7,617.1 L512.3,618.6 L514.0,617.0 L515.5,616.8 L517.1,616.0 L518.7,616.5 L520.3,616.4 L521.9,614.9 L523.5,615.8 L525.0,614.9 L526.6,615.6 L528.2,615.9 L530.0,615.0 L531.4,614.0 L533.0,615.0 L534.6,614.5 L536.2,613.5 L537.8,613.6 L539.4,613.7 L540.9,612.5 L542.5,612.3 L544.0,612.0 L545.7,611.9 L547.3,609.8 L548.9,610.9 L550.5,609.2 L552.1,609.6 L553.7,607.8 L555.3,607.5 L556.8,607.1 L558.0,607.0 L560.0,605.2 L561.6,605.5 L563.2,604.1 L564.8,604.2 L566.4,602.7 L568.0,602.2 L569.6,601.1 L571.2,601.3 L572.0,600.0 L572.7,599.5 L574.3,598.8 L575.9,599.0 L577.5,597.3 L579.1,596.8 L580.7,595.3 L582.3,595.0 L583.9,593.0 L585.5,593.3 L586.0,593.0 L587.1,592.3 L588.6,591.3 L590.2,590.8 L591.8,591.5 L593.4,590.6 L595.0,589.1 L596.6,590.1 L598.2,588.3 L600.0,588.0 L601.4,587.6 L603.0,586.3 L604.5,585.5 L606.1,585.3 L607.7,585.7 L609.3,585.0 L610.9,583.2 L612.5,583.9 L614.1,582.7 L616.0,582.0 L617.3,581.6 L618.9,581.1 L620.4,579.9 L622.0,579.3 L623.6,578.8 L625.2,578.4 L626.8,578.2 L628.4,576.8 L630.0,577.5 L632.0,576.0 L633.2,575.1 L634.8,575.0 L636.3,574.0 L637.9,572.9 L639.5,571.7 L641.1,571.0 L642.7,569.9 L644.3,570.4 L645.9,569.6 L647.5,569.2 L648.0,568.0 L649.1,567.7 L650.7,566.8 L652.2,566.2 L653.8,565.5 L655.4,564.2 L657.0,563.7 L658.6,563.7 L660.2,561.1 L661.8,560.4 L663.4,559.9 L664.0,560.0 L665.0,559.9 L666.6,559.2 L668.1,557.6 L669.7,557.3 L671.3,556.1 L672.9,555.4 L674.5,554.2 L676.1,553.6 L677.7,552.7 L679.3,552.4 L680.0,551.5 L680.9,551.7 L682.5,548.1 L684.0,547.5 L685.6,545.6 L687.2,544.4 L688.8,542.8 L690.0,541.0 L692.0,540.4 L693.6,538.8 L695.2,537.6 L696.8,538.4 L698.4,537.4 L699.9,535.6 L701.5,535.9 L703.1,534.8 L704.0,534.0 L704.7,532.4 L706.3,533.0 L707.9,531.0 L709.5,531.0 L711.1,529.1 L712.7,528.1 L714.3,526.7 L715.8,526.3 L717.4,525.9 L718.0,525.0 L719.0,523.7 L720.6,521.7 L722.2,522.2 L723.8,520.6 L725.4,518.6 L727.0,516.5 L728.6,514.7 L730.0,514.0 L731.7,512.7 L733.3,511.5 L734.9,508.9 L736.5,508.0 L738.1,506.3 L739.7,504.9 L741.3,503.8 L742.9,503.1 L744.0,501.0 L744.5,500.2 L746.1,499.4 L747.6,497.9 L749.2,495.6 L750.8,494.1 L752.4,491.9 L754.0,491.5 L755.6,489.2 L757.2,487.5 L758.0,487.0 L758.8,486.3 L760.4,484.3 L762.0,482.7 L763.5,481.5 L765.1,480.9 L766.7,478.5 L768.3,477.4 L770.0,475.5 L771.5,472.4 L773.1,471.9 L774.7,468.5 L776.3,465.7 L777.9,464.1 L779.4,462.1 L780.0,461.0 L781.0,459.0 L782.6,457.7 L784.2,456.5 L785.8,454.2 L787.4,453.3 L789.0,451.6 L790.0,450.0 L790.6,449.6 L792.2,447.4 L793.8,445.9 L795.3,443.8 L796.9,442.3 L798.5,440.8 L800.0,439.0 L801.7,438.4 L803.3,438.1 L804.9,435.6 L806.5,435.0 L808.1,434.2 L810.0,432.5 L811.2,431.8 L812.8,430.9 L814.4,430.8 L816.0,429.8 L817.6,428.9 L819.2,427.5 L820.0,427.5 L820.8,427.4 L822.4,426.6 L824.0,425.2 L825.6,424.7 L827.1,424.5 L828.0,423.0 L828.7,421.9 L830.3,422.8 L831.9,421.7 L833.0,422.0 L833.5,421.3" fill="none" stroke="#b0b0ff" stroke-width="1.0" stroke-dasharray="4.11 1.78"/>
<path d="M120.0,623.0 L121.2,625.4 L123.0,628.0 L124.4,625.8 L126.0,624.0 L127.5,623.0 L129.0,622.0 L130.7,623.1 L132.0,625.0 L134.0,622.4 L135.5,624.3 L137.1,627.4 L138.0,629.0 L138.7,628.0 L140.3,626.6 L142.0,625.6 L143.4,625.2 L145.0,625.7 L147.0,625.0 L148.2,621.1 L149.6,619.0 L151.4,622.7 L152.0,624.0 L153.0,621.0 L154.6,626.1 L156.0,629.0 L158.0,625.6 L159.3,627.0 L160.9,629.9 L162.0,633.0 L162.5,634.2 L164.1,635.3 L165.7,636.5 L167.3,636.2 L168.0,638.0 L168.9,637.8 L170.5,641.0 L172.0,644.0 L173.7,645.1 L175.2,645.1 L176.8,647.9 L178.4,647.2 L179.0,648.0 L180.0,649.4 L181.6,653.2 L183.0,655.0 L184.8,655.9 L186.4,658.5 L188.0,660.7 L190.0,661.0 L191.1,660.6 L192.7,659.8 L194.0,660.4 L195.9,658.9 L196.4,658.0 L197.5,661.7 L199.1,666.5 L200.0,668.4 L200.7,668.5 L202.3,666.2 L203.9,667.1 L205.5,666.1 L206.0,666.4 L207.0,666.2 L208.6,667.3 L210.0,669.0 L211.8,671.2 L213.4,675.0 L214.0,674.4 L215.0,675.1 L216.6,673.8 L218.2,676.4 L219.0,676.0 L219.8,677.6 L221.4,678.0 L222.9,678.4 L224.5,681.9 L225.0,681.0 L226.1,679.8 L227.7,680.4 L229.3,678.7 L230.0,680.0 L230.9,679.8 L232.5,680.8 L234.1,684.2 L236.0,685.0 L237.3,685.2 L238.8,685.2 L240.4,686.7 L242.0,687.7 L243.6,686.9 L245.2,687.8 L246.0,689.0 L246.8,688.8 L248.4,689.2 L250.0,688.6 L251.6,688.6 L253.2,687.2 L254.0,688.0 L254.7,686.4 L256.3,688.8 L258.0,689.0 L259.5,688.3 L261.1,687.5 L263.0,687.0 L264.3,687.7 L265.9,690.9 L267.5,691.5 L268.0,692.0 L269.1,693.0 L270.6,693.9 L272.0,694.2 L273.8,694.1 L275.4,692.2 L276.0,693.3 L277.0,691.6 L279.0,689.6 L280.2,690.8 L281.8,691.9 L283.4,692.9 L284.0,693.0 L285.0,693.4 L286.5,694.9 L287.6,696.4 L288.1,695.3 L289.7,694.7 L291.0,692.4 L292.9,694.7 L294.5,694.6 L296.0,695.0 L297.7,694.9 L299.3,693.3 L300.0,694.0 L300.9,695.8 L302.4,695.9 L304.0,697.6 L306.0,698.0 L307.2,697.4 L308.8,697.2 L310.4,695.8 L311.0,696.4 L312.0,696.4 L313.6,698.1 L315.2,699.8 L316.8,700.6 L318.3,702.9 L319.0,703.6 L319.9,702.4 L321.5,701.2 L322.0,699.0 L323.1,701.5 L325.0,702.0 L326.3,704.8 L327.9,706.7 L329.5,709.8 L330.0,710.4 L331.1,709.5 L333.0,708.0 L334.2,708.6 L336.0,709.4 L337.4,709.6 L339.0,708.9 L340.6,708.1 L342.2,708.5 L344.0,708.6 L345.4,707.7 L347.0,708.2 L348.6,707.8 L350.0,707.0 L351.7,705.9 L353.3,706.4 L354.9,706.6 L356.0,706.0 L356.5,707.4 L358.1,707.5 L359.7,708.8 L361.0,709.0 L362.9,711.1 L364.5,714.9 L365.0,714.4 L366.0,714.3 L367.6,716.3 L369.2,714.4 L370.0,715.0 L370.8,714.5 L372.4,713.0 L373.0,714.0 L374.0,715.9 L376.0,718.4 L377.2,718.8 L379.0,715.6 L380.4,716.1 L381.9,716.0 L383.0,717.6 L383.5,717.0 L385.0,715.6 L386.7,717.2 L388.3,718.5 L390.0,718.6 L391.5,719.5 L393.1,720.9 L394.0,721.0 L394.7,721.8 L396.3,722.3 L398.0,725.0 L399.4,723.8 L401.0,721.2 L402.0,721.0 L402.6,722.3 L404.2,724.7 L405.8,727.8 L407.4,730.7 L408.0,730.6 L409.0,727.9 L410.6,729.9 L412.2,729.9 L414.0,728.0 L415.3,726.3 L416.9,727.4 L418.5,727.0 L420.0,726.4 L422.0,728.4 L423.3,726.8 L424.9,725.7 L426.5,724.5 L427.4,723.0 L428.1,725.6 L429.6,726.4 L431.6,729.0 L432.8,725.9 L434.4,726.6 L436.0,724.0 L437.6,722.8 L439.2,721.0 L440.0,721.2 L440.8,722.7 L442.4,724.0 L444.0,723.6 L445.5,723.2 L446.0,723.0 L447.1,724.5 L449.0,726.4 L450.3,726.6 L452.0,727.0 L453.5,729.2 L455.1,729.1 L456.4,731.6 L458.3,729.4 L459.9,728.1 L461.0,726.0 L463.0,726.2 L464.6,725.6 L466.0,725.0 L467.8,720.9 L469.6,719.0 L471.0,719.4 L472.6,719.8 L474.2,720.5 L476.0,720.4 L477.3,718.9 L478.9,718.8 L480.5,717.4 L482.0,715.6 L483.7,716.9 L485.3,716.5 L486.9,718.7 L488.5,718.5 L489.0,719.6 L490.1,717.5 L491.7,716.4 L493.2,714.9 L494.0,714.0 L494.8,713.0 L496.4,710.8 L497.0,710.4 L498.0,710.7 L499.0,712.4 L499.6,712.2 L501.2,710.8 L502.8,709.5 L504.0,710.0 L506.0,709.6 L508.0,707.0 L509.1,707.2 L510.4,709.0 L512.3,708.1 L514.0,705.0 L515.5,706.2 L517.1,708.0 L518.4,709.0 L520.3,708.1 L521.9,707.9 L523.5,706.6 L524.0,706.0 L525.0,705.1 L526.6,706.4 L528.2,707.1 L529.0,708.4 L529.8,708.3 L531.0,707.4 L533.0,710.2 L534.0,709.6 L534.6,709.2 L536.2,709.0 L537.8,708.2 L539.0,707.6 L540.9,708.7 L542.5,706.8 L543.0,706.4 L544.1,705.1 L546.0,700.0 L547.3,699.4 L548.9,700.1 L550.0,699.4 L550.5,699.3 L552.1,700.2 L553.0,700.4 L553.7,700.3 L555.3,699.8 L556.8,699.0 L558.4,700.0 L560.0,698.4 L561.6,697.4 L563.2,696.6 L565.0,693.6 L566.4,693.9 L568.0,693.7 L569.6,693.0 L571.2,693.0 L572.0,691.4 L572.7,689.1 L574.3,689.0 L575.6,685.4 L577.5,685.3 L579.0,687.6 L580.7,685.7 L582.3,685.9 L583.0,685.6 L583.9,683.6 L585.5,682.4 L586.0,682.6 L587.1,683.5 L588.6,684.3 L590.0,685.0 L591.8,684.1 L593.4,683.6 L595.0,683.0 L596.6,681.2 L598.2,679.3 L600.0,677.5 L601.4,675.5 L603.0,675.3 L604.5,674.8 L605.0,674.4 L606.1,674.3 L607.7,674.5 L609.3,674.8 L610.0,675.3 L610.9,675.6 L612.5,676.7 L614.1,675.9 L615.7,676.2 L617.0,676.6 L618.9,675.2 L620.4,672.9 L622.0,673.5 L624.0,672.0 L625.2,669.6 L626.8,668.0 L628.4,665.0 L629.0,664.0 L630.0,663.1 L631.6,661.1 L633.2,660.6 L635.0,661.0 L636.3,660.3 L637.9,659.9 L639.5,659.0 L640.0,658.6 L641.1,659.1 L643.0,661.0 L644.3,658.7 L645.9,657.5 L647.5,654.9 L649.0,654.0 L650.7,652.4 L652.2,651.5 L653.8,652.2 L655.4,650.5 L656.0,651.6 L657.0,651.9 L658.6,648.4 L660.2,647.6 L661.8,645.9 L663.4,644.0 L664.0,644.0 L665.0,643.4 L666.6,644.6 L668.1,648.0 L669.0,648.0 L669.7,648.4 L671.3,648.5 L672.9,644.9 L674.5,645.7 L676.1,644.4 L677.0,644.0 L677.7,644.6 L679.3,643.6 L680.0,644.0 L680.9,642.8 L682.5,639.8 L684.0,636.4 L685.6,633.8 L687.0,630.0 L688.8,631.8 L690.0,631.0 L692.0,631.0 L693.6,626.7 L695.2,627.8 L696.8,626.2 L698.0,626.0 L699.9,625.2 L701.5,623.7 L703.0,622.0 L704.7,619.3 L706.0,615.0 L707.9,614.4 L709.5,616.1 L710.0,615.0 L711.1,615.5 L712.7,614.2 L714.3,616.4 L715.0,616.4 L715.8,613.6 L717.4,612.1 L719.0,607.5 L720.6,605.9 L722.2,606.1 L723.8,603.3 L725.0,603.0 L727.0,598.8 L729.0,593.5 L730.2,591.8 L731.7,591.7 L733.3,589.3 L735.0,590.0 L736.5,585.1 L738.0,583.0 L739.7,579.6 L741.3,575.9 L743.0,575.0 L744.5,574.1 L746.1,572.2 L747.6,572.9 L749.2,570.7 L750.0,569.5 L750.8,568.6 L752.4,566.2 L754.0,562.5 L755.6,563.2 L757.2,561.7 L758.0,560.0 L758.8,558.8 L760.0,558.0 L762.0,555.5 L763.5,552.3 L765.1,551.6 L766.7,550.2 L768.0,548.0 L769.9,545.7 L771.5,543.5 L773.1,541.8 L774.0,540.0 L774.7,540.4 L776.3,537.5 L778.0,536.0 L779.4,535.8 L781.0,535.8 L782.0,537.0 L782.6,534.5 L784.2,530.3 L786.0,525.0 L787.4,523.0 L789.0,520.6 L790.6,517.9 L792.0,516.0 L793.8,514.6 L795.3,512.6 L797.0,510.0 L798.5,510.3 L800.0,511.0 L801.0,507.0 L801.7,509.1 L803.3,509.7 L804.0,510.4 L804.9,509.9 L806.5,507.9 L808.1,507.5 L810.0,505.0 L811.2,503.4 L812.8,503.0 L814.4,501.7 L816.0,501.6 L818.0,499.6 L819.2,496.4 L820.0,494.0 L820.8,494.2 L822.4,495.4 L824.0,496.0 L825.6,496.4 L827.1,494.1 L828.0,495.0 L828.7,494.2 L830.3,492.9 L831.9,492.8 L833.0,491.6 L833.5,491.6" fill="none" stroke="#e0e0ff" stroke-width="0.69" stroke-dasharray="2.57 1.11"/>
<path d="M120.0,115.0 L121.2,115.2 L122.8,114.6 L124.4,114.4 L126.0,113.9 L127.5,114.1 L129.1,114.7 L130.0,114.0 L130.7,114.3 L132.3,114.7 L133.9,114.3 L135.5,114.4 L137.1,114.4 L138.7,113.4 L140.0,114.4 L141.9,114.3 L143.4,114.0 L145.0,112.5 L146.6,112.1 L148.2,112.3 L150.0,112.4 L151.4,113.5 L153.0,114.3 L154.6,115.7 L156.2,116.1 L157.0,117.0 L157.8,120.0 L159.3,125.8 L160.0,128.0 L160.9,127.9 L162.5,129.8 L164.1,129.7 L166.0,130.0 L167.3,127.5 L169.0,125.0 L170.5,127.3 L172.1,130.0 L173.0,131.6 L173.7,131.4 L175.2,129.8 L176.8,128.1 L178.4,126.4 L180.0,125.6 L181.6,125.8 L183.2,124.3 L184.8,124.5 L186.0,124.0 L188.0,127.5 L189.6,131.8 L190.6,134.0 L191.1,133.1 L192.7,126.6 L194.3,122.9 L195.6,119.4 L197.0,124.4 L197.5,123.3 L199.1,122.0 L200.7,119.6 L202.0,118.0 L203.9,119.7 L205.0,120.0 L205.5,120.0 L207.0,118.9 L208.0,117.6 L208.6,118.6 L210.2,118.4 L211.8,118.7 L213.0,119.0 L215.0,117.7 L216.6,115.7 L218.2,114.5 L219.8,112.7 L221.4,111.6 L222.0,111.6 L222.9,112.3 L224.0,113.6 L224.5,113.8 L226.1,110.6 L227.0,111.0 L227.7,111.9 L229.3,116.7 L230.9,121.2 L232.0,123.0 L232.5,124.0 L234.1,124.9 L235.7,126.8 L237.3,130.6 L238.0,131.4 L238.8,129.4 L240.4,126.2 L241.4,125.0 L242.0,125.5 L243.6,125.4 L245.2,124.7 L246.8,124.6 L248.0,124.4 L250.0,126.3 L251.0,126.0 L251.6,125.1 L253.2,121.7 L254.0,119.6 L254.7,119.7 L256.3,118.2 L257.9,119.4 L259.0,118.4 L259.5,118.4 L261.1,116.6 L262.0,115.4 L262.7,116.3 L264.0,121.0 L265.9,122.4 L267.5,121.8 L269.0,123.6 L270.6,127.7 L272.4,131.0 L273.8,133.7 L275.4,135.2 L276.4,136.2 L277.0,134.6 L278.6,130.7 L279.6,128.0 L280.2,129.2 L281.8,131.3 L283.0,133.0 L285.0,131.7 L286.0,131.6 L286.5,132.3 L288.1,135.9 L289.4,137.6 L291.3,136.7 L292.9,137.4 L294.0,136.6 L294.5,137.5 L296.1,136.6 L298.0,137.0 L299.3,137.4 L300.9,137.9 L302.0,138.4 L304.0,136.9 L305.6,133.9 L306.4,133.6 L307.2,134.7 L309.0,135.0 L310.4,133.2 L312.0,132.0 L313.6,133.3 L315.2,133.9 L316.8,134.3 L317.4,134.4 L318.3,133.6 L319.9,132.0 L321.5,130.8 L322.4,129.6 L323.1,128.0 L325.0,124.0 L326.3,119.8 L327.0,117.0 L327.9,115.2 L329.5,112.5 L331.1,109.2 L332.0,107.0 L332.7,108.0 L334.2,106.7 L335.8,106.0 L337.0,106.0 L339.0,103.0 L341.0,100.0 L342.2,96.9 L343.8,93.5 L345.4,90.5 L346.0,88.0 L347.0,84.8 L348.6,82.5 L350.0,80.4 L351.7,79.6 L353.3,78.6 L354.9,77.2 L356.4,76.6 L358.1,78.7 L359.7,80.2 L361.0,82.0 L362.9,78.5 L364.0,76.0 L364.5,75.4 L366.0,74.6 L367.0,74.0 L367.6,74.1 L369.2,74.9 L371.0,75.6 L372.4,74.8 L374.4,74.4 L375.6,74.8 L377.2,76.8 L379.0,78.4 L380.4,75.5 L381.6,72.0 L383.5,74.0 L384.6,76.6 L385.1,75.7 L386.7,73.5 L388.0,72.0 L389.9,74.6 L391.4,75.6 L393.1,81.9 L394.0,84.4 L394.7,84.0 L396.0,85.6 L398.0,90.0 L399.4,91.1 L401.0,92.7 L401.6,92.4 L402.6,94.9 L404.2,99.1 L406.0,103.6 L407.4,104.2 L409.0,104.6 L410.0,105.0 L410.6,106.6 L412.2,108.6 L413.7,110.1 L415.0,112.0 L416.9,115.4 L418.5,119.9 L419.0,120.4 L420.1,120.9 L421.7,122.1 L423.3,123.4 L424.0,123.4 L424.9,122.9 L426.5,121.9 L428.0,120.4 L430.0,120.0 L431.2,119.5 L432.8,117.6 L434.0,117.4 L436.0,116.5 L437.6,117.9 L439.2,117.5 L440.0,117.0 L440.8,117.2 L442.4,114.6 L444.0,113.8 L445.0,113.0 L445.5,112.6 L447.1,114.2 L449.0,114.4 L450.3,115.2 L451.9,118.2 L453.6,119.0 L455.1,118.1 L456.7,116.3 L458.3,117.3 L460.0,115.6 L461.4,112.7 L463.0,110.4 L464.0,108.4 L464.6,108.4 L466.2,108.4 L467.8,106.5 L469.0,106.6 L471.0,107.3 L472.6,107.3 L474.0,106.4 L475.8,108.0 L477.3,110.8 L478.0,111.0 L478.9,113.8 L480.5,118.5 L481.4,121.0 L482.1,121.5 L483.7,119.8 L485.0,119.4 L486.9,119.0 L488.5,118.0 L489.0,119.0 L490.1,118.4 L491.7,116.5 L493.2,114.4 L494.8,113.2 L496.0,112.0 L498.0,112.8 L499.6,114.2 L501.0,114.0 L502.8,116.0 L504.4,117.5 L506.0,118.0 L507.6,117.4 L509.0,117.6 L511.0,120.4 L512.3,117.6 L513.4,116.4 L513.9,116.2 L515.5,120.5 L517.0,122.4 L518.7,122.4 L520.3,122.3 L521.0,122.4 L521.9,123.4 L523.5,125.0 L525.0,127.4 L527.0,129.6 L528.2,130.2 L529.8,131.3 L531.0,131.6 L533.0,129.2 L534.6,130.2 L536.0,132.4 L537.8,131.6 L539.0,130.0 L540.9,131.3 L542.6,133.0 L544.1,130.7 L545.4,128.0 L547.3,128.3 L548.9,127.8 L550.5,127.0 L551.0,127.6 L552.1,128.0 L554.0,131.0 L555.3,130.4 L556.8,128.2 L557.4,128.0 L558.4,128.7 L560.0,131.0 L561.6,130.4 L563.2,131.5 L564.8,131.2 L566.0,132.0 L568.0,129.1 L569.6,129.2 L571.2,127.4 L572.0,127.0 L572.7,125.3 L574.3,125.6 L575.9,123.8 L576.6,123.4 L577.5,123.5 L579.4,127.4 L580.7,125.5 L582.3,122.5 L583.0,121.6 L583.9,121.4 L585.5,120.2 L586.6,119.0 L587.1,120.0 L588.4,121.6 L590.2,120.6 L591.8,118.8 L593.4,117.0 L595.0,116.6 L596.6,119.0 L598.2,119.9 L599.0,119.6 L599.8,120.2 L601.6,122.0 L603.0,122.4 L604.5,119.6 L606.1,120.1 L607.0,119.4 L607.7,120.9 L609.3,119.5 L610.0,120.2 L610.9,121.7 L612.5,124.3 L614.1,125.2 L615.0,126.4 L615.7,126.5 L617.3,126.3 L618.0,125.6 L618.9,126.3 L620.4,128.8 L622.0,131.0 L623.6,136.1 L625.0,139.6 L626.8,137.1 L628.4,134.6 L629.0,134.4 L630.0,134.1 L631.6,134.7 L633.2,134.2 L634.8,133.6 L636.0,134.0 L637.9,133.4 L639.5,130.9 L641.1,128.9 L642.0,127.6 L642.7,126.0 L644.3,127.5 L645.9,127.1 L647.0,126.6 L647.5,127.9 L649.1,128.5 L650.0,129.0 L650.7,128.3 L652.0,127.0 L654.0,130.0 L655.4,130.9 L657.0,130.8 L659.0,131.0 L660.2,133.0 L661.8,134.9 L663.4,134.8 L664.4,136.6 L665.0,135.7 L666.6,134.8 L668.1,133.3 L669.0,132.4 L669.7,131.4 L671.3,129.3 L672.4,128.6 L672.9,129.9 L674.5,129.8 L676.0,129.6 L677.7,129.1 L679.0,130.0 L680.9,129.1 L682.5,128.4 L683.0,127.0 L684.0,128.5 L685.6,129.2 L687.2,131.4 L688.0,132.0 L688.8,129.9 L690.4,128.8 L692.0,127.4 L693.6,125.6 L695.2,125.2 L697.0,125.6 L698.4,127.2 L699.9,128.7 L701.0,129.6 L701.5,131.4 L703.1,135.7 L704.0,138.0 L704.7,138.6 L706.3,141.0 L707.0,141.4 L707.9,140.6 L709.5,138.7 L711.1,137.3 L712.7,136.2 L714.0,135.0 L715.8,137.1 L717.4,138.7 L719.0,140.4 L720.6,138.7 L722.0,137.4 L723.8,140.9 L725.4,143.6 L727.0,141.2 L728.6,138.3 L730.0,136.0 L731.7,132.9 L733.3,130.0 L734.0,130.0 L734.9,131.1 L736.5,132.5 L738.1,135.3 L739.0,136.0 L739.7,135.0 L741.3,133.3 L742.0,134.4 L742.9,134.6 L744.5,137.5 L746.1,137.9 L747.0,139.0 L747.6,138.8 L749.2,140.4 L750.8,142.3 L752.0,143.0 L754.0,140.7 L755.4,139.0 L757.0,145.6 L758.8,147.0 L760.0,148.0 L762.0,147.3 L763.5,145.6 L765.1,144.3 L766.0,143.0 L766.7,141.9 L768.3,141.2 L769.6,140.4 L771.5,142.7 L772.4,144.0 L773.1,143.9 L774.7,142.2 L776.3,140.8 L777.0,139.6 L777.9,139.0 L779.4,139.7 L780.0,138.0 L781.0,137.9 L782.6,135.8 L784.2,134.7 L785.0,134.0 L785.8,136.1 L787.0,135.6 L789.0,133.6 L790.6,131.7 L792.0,129.4 L793.8,129.1 L795.3,130.2 L797.0,130.4 L798.5,128.7 L800.1,126.2 L801.0,124.4 L801.7,120.9 L803.0,114.4 L804.9,113.9 L806.4,113.0 L808.1,112.5 L809.7,111.9 L811.0,111.6 L812.8,107.7 L814.4,105.0 L816.0,102.4 L817.6,99.4 L819.2,97.7 L820.6,96.0 L822.4,95.6 L823.6,96.0 L826.0,100.4 L827.1,101.1 L828.7,102.0 L830.0,103.0 L831.9,106.2 L833.0,106.4 L833.5,106.7" fill="none" stroke="#2222cc" stroke-width="0.9" stroke-dasharray="3 0.7"/>
<path d="M120.0,192.0 L121.2,191.0 L122.8,190.6 L124.4,189.0 L125.0,189.6 L126.0,189.9 L127.5,189.8 L129.1,188.2 L130.0,189.0 L130.7,189.3 L132.3,190.5 L134.0,191.0 L135.5,189.4 L137.1,189.1 L138.7,188.7 L140.0,188.4 L141.9,189.2 L143.4,189.9 L144.0,190.0 L145.0,191.8 L147.0,194.4 L148.2,196.0 L149.8,197.0 L151.4,196.9 L152.0,198.0 L153.0,198.7 L154.6,200.0 L156.2,201.6 L158.0,204.0 L159.3,206.8 L160.9,210.3 L162.4,213.0 L164.1,214.2 L165.7,216.5 L167.3,218.1 L168.0,219.0 L168.9,219.7 L170.5,221.4 L172.1,222.7 L173.7,225.0 L175.2,226.4 L176.0,227.0 L176.8,227.5 L178.4,228.3 L180.0,229.6 L181.6,229.3 L183.0,231.6 L184.8,233.6 L186.4,234.6 L187.0,236.0 L188.0,238.5 L189.6,242.5 L191.0,246.0 L192.7,246.9 L194.3,247.7 L195.9,249.0 L197.5,250.0 L198.0,250.0 L199.1,250.8 L200.7,251.5 L202.3,252.9 L203.9,254.1 L205.5,255.6 L207.0,256.5 L208.0,257.0 L208.6,257.9 L210.2,260.8 L211.8,264.5 L213.0,267.0 L215.0,267.9 L216.6,269.6 L218.2,270.6 L219.8,272.0 L221.4,273.4 L222.0,273.6 L222.9,273.4 L224.5,274.8 L225.0,273.6 L226.1,274.8 L227.7,277.4 L229.3,278.8 L230.0,279.6 L230.9,280.7 L232.5,279.9 L234.1,281.7 L235.7,283.1 L237.3,284.3 L238.8,286.1 L240.0,285.6 L242.0,287.2 L243.6,287.7 L245.2,288.6 L247.0,289.0 L248.4,290.0 L250.0,291.6 L252.0,293.0 L253.2,293.5 L254.7,292.3 L256.3,292.9 L257.9,293.7 L259.5,292.4 L261.1,292.5 L262.0,292.4 L262.7,292.9 L264.3,292.3 L265.9,291.7 L267.5,292.2 L268.0,292.0 L269.1,292.5 L270.6,292.8 L272.2,292.3 L274.0,293.0 L275.4,294.0 L277.0,293.3 L278.6,293.5 L280.2,293.3 L281.0,293.6 L281.8,293.5 L283.4,290.7 L285.0,289.6 L286.5,287.3 L288.0,286.0 L289.7,284.8 L291.3,283.8 L292.9,281.7 L294.5,280.0 L296.0,279.0 L297.7,277.8 L299.3,276.8 L300.9,276.2 L302.4,274.9 L304.0,272.9 L305.6,273.1 L307.0,271.0 L308.8,268.4 L310.4,265.0 L312.0,262.7 L313.0,261.0 L313.6,259.1 L315.2,257.9 L316.8,254.8 L318.3,250.6 L319.0,250.0 L319.9,247.1 L321.5,243.4 L323.1,241.2 L324.7,236.7 L326.0,234.0 L327.9,232.3 L329.5,231.0 L331.1,229.2 L332.0,229.0 L332.7,228.7 L334.2,227.3 L335.8,227.3 L337.4,226.8 L339.0,226.3 L340.0,225.6 L340.6,224.8 L342.2,222.8 L343.8,221.6 L345.4,219.5 L347.0,218.0 L348.6,216.7 L350.1,214.5 L352.0,212.6 L353.3,213.2 L354.9,214.1 L356.5,215.5 L357.0,216.0 L358.1,215.8 L360.0,215.0 L361.3,215.9 L362.9,217.5 L364.0,217.0 L364.5,216.4 L366.0,215.9 L367.0,215.4 L367.6,216.7 L369.2,214.0 L370.8,214.4 L372.0,214.4 L374.0,216.0 L375.6,217.4 L377.2,218.2 L378.0,219.0 L378.8,219.1 L380.4,218.8 L381.9,219.1 L383.5,217.6 L385.1,218.0 L386.0,218.4 L386.7,218.4 L388.3,218.0 L389.9,218.1 L391.5,219.1 L393.1,218.5 L395.0,219.0 L396.3,221.3 L397.8,223.5 L399.4,226.0 L400.0,226.6 L401.0,227.2 L402.6,227.6 L404.2,229.3 L405.8,230.5 L407.4,231.1 L409.0,232.3 L410.0,233.0 L410.6,234.2 L412.2,235.8 L413.7,238.9 L415.3,241.9 L416.9,243.1 L418.0,245.0 L418.5,245.4 L420.1,246.4 L421.7,248.4 L423.3,248.9 L424.9,250.3 L426.5,250.6 L428.0,252.0 L429.6,254.2 L431.2,255.4 L432.8,259.2 L434.0,260.0 L436.0,262.8 L437.6,267.0 L439.2,269.4 L440.0,271.0 L440.8,272.3 L442.4,274.4 L444.0,275.7 L445.5,278.5 L447.1,281.6 L448.0,282.0 L448.7,282.7 L450.3,284.6 L451.9,286.5 L453.5,288.7 L455.1,291.6 L456.7,294.4 L458.3,295.9 L460.0,298.0 L461.4,299.7 L463.0,299.0 L464.6,299.5 L466.2,300.8 L467.8,301.4 L469.4,301.3 L470.0,302.0 L471.0,302.5 L472.6,305.1 L474.2,306.9 L475.8,307.9 L477.0,310.0 L478.9,310.7 L480.5,312.0 L482.1,312.5 L483.0,313.0 L483.7,312.7 L485.3,311.8 L486.9,311.9 L488.5,311.3 L490.0,310.0 L491.7,309.6 L493.2,308.0 L494.8,307.6 L496.0,307.0 L498.0,308.9 L499.6,308.9 L501.2,309.9 L502.0,310.4 L502.8,310.2 L504.4,308.8 L506.0,309.0 L507.6,308.2 L509.0,308.0 L510.7,306.8 L512.3,305.9 L513.9,306.3 L515.5,305.9 L516.0,305.6 L517.1,305.8 L518.7,307.2 L520.3,307.3 L521.9,307.8 L523.5,309.0 L524.0,309.0 L525.0,307.7 L526.6,307.4 L528.2,307.0 L529.0,306.6 L529.8,307.2 L531.4,306.9 L533.0,307.5 L534.6,307.2 L536.2,308.0 L537.0,308.0 L537.8,308.4 L539.4,306.3 L540.9,306.9 L542.5,304.5 L544.0,304.0 L545.7,303.8 L547.3,304.0 L548.9,302.6 L550.0,303.0 L550.5,302.4 L552.1,305.1 L553.0,305.6 L553.7,305.5 L555.3,304.1 L556.8,303.8 L558.4,301.4 L560.0,300.0 L561.6,300.2 L563.2,299.7 L564.8,300.0 L566.0,299.0 L568.0,297.2 L569.6,294.4 L571.2,295.2 L572.7,293.3 L574.3,292.6 L575.9,292.0 L577.0,290.0 L577.5,290.1 L579.1,290.4 L581.0,291.0 L582.3,289.7 L583.9,288.8 L585.5,288.3 L587.1,287.0 L588.6,285.9 L590.0,285.0 L591.8,285.2 L593.4,284.8 L595.0,284.2 L597.0,284.0 L598.2,284.8 L599.8,285.5 L601.0,287.0 L603.0,286.4 L604.5,285.0 L606.0,284.8 L607.7,285.7 L609.3,285.3 L610.9,287.6 L612.5,287.6 L614.1,288.5 L615.0,288.4 L615.7,288.2 L617.3,287.3 L618.0,287.0 L618.9,286.7 L620.4,289.0 L622.0,289.4 L623.6,287.8 L625.2,286.7 L627.0,285.0 L628.4,285.5 L630.0,285.2 L631.6,285.6 L633.2,284.7 L635.0,286.0 L636.3,284.6 L637.9,283.0 L639.5,280.1 L641.0,278.4 L642.7,280.3 L644.3,280.4 L645.9,282.0 L647.0,282.4 L647.5,283.3 L649.1,282.7 L650.7,283.5 L652.2,282.8 L653.8,283.5 L655.4,283.6 L657.0,283.9 L658.0,284.0 L658.6,284.1 L660.2,283.4 L661.8,280.6 L663.0,280.0 L665.0,281.8 L666.0,282.4 L666.6,281.0 L668.1,279.4 L670.0,276.4 L671.3,276.0 L672.9,276.1 L674.5,274.8 L676.1,275.7 L677.7,274.2 L679.3,274.4 L680.0,274.6 L680.9,273.9 L682.5,273.3 L684.0,273.3 L685.0,272.4 L685.6,272.8 L687.2,273.4 L688.8,274.7 L690.0,275.0 L692.0,274.0 L693.6,273.5 L695.2,273.1 L696.8,271.9 L698.4,270.3 L700.0,270.2 L701.5,270.6 L703.1,267.8 L704.7,268.0 L706.3,267.6 L707.5,266.8 L709.5,269.9 L710.5,271.0 L711.1,270.5 L712.7,269.2 L714.3,268.8 L715.8,268.3 L717.4,266.3 L719.0,265.4 L720.0,265.3 L720.6,265.2 L722.2,264.1 L723.8,264.7 L725.4,264.5 L727.0,264.7 L728.0,264.4 L728.6,263.7 L730.2,262.5 L731.7,261.6 L733.3,260.7 L734.9,259.3 L736.5,258.5 L737.5,257.8 L738.1,258.0 L739.7,257.9 L741.3,257.8 L742.9,256.1 L744.5,256.0 L746.0,255.8 L747.6,255.6 L749.2,253.1 L750.8,252.3 L752.4,251.5 L754.0,249.4 L754.5,249.7 L755.6,249.4 L757.2,248.5 L758.8,246.8 L760.4,247.2 L762.0,246.9 L763.0,245.8 L763.5,243.8 L765.1,241.9 L767.0,237.8 L768.3,237.0 L769.9,235.7 L771.5,234.9 L773.0,233.0 L774.7,230.3 L776.3,226.7 L777.9,224.4 L779.4,220.6 L780.0,220.0 L781.0,218.5 L782.6,217.3 L784.2,214.4 L785.8,211.9 L787.4,209.3 L788.0,209.0 L789.0,207.6 L790.6,206.5 L792.2,205.3 L793.8,203.5 L795.3,201.9 L797.0,200.0 L798.5,197.0 L800.1,192.3 L802.0,188.0 L803.3,187.4 L804.9,185.6 L806.5,184.1 L808.0,183.0 L810.0,180.4 L811.2,180.4 L812.8,179.9 L814.4,178.8 L816.0,179.0 L817.6,178.0 L819.2,176.4 L820.8,176.2 L822.4,174.7 L823.0,174.4 L824.0,174.4 L825.6,175.3 L827.1,175.9 L828.0,175.4 L828.7,174.5 L830.0,174.0 L831.9,174.8 L833.0,176.0 L833.5,177.2" fill="none" stroke="#000088" stroke-width="1.0" stroke-dasharray="4.11 1.78"/>
<path d="M120.0,229.6 L121.2,230.3 L122.8,229.8 L124.4,230.7 L126.0,231.5 L127.5,229.9 L128.0,231.0 L129.1,230.8 L130.7,231.2 L132.3,231.0 L133.9,230.7 L135.5,231.9 L136.0,231.0 L137.1,231.5 L138.7,231.5 L140.3,233.2 L142.0,233.6 L143.4,235.6 L145.0,236.7 L147.0,239.0 L148.2,239.7 L149.8,239.5 L151.0,239.6 L153.0,242.3 L154.6,246.1 L156.0,248.0 L157.8,249.7 L159.3,252.1 L160.9,253.8 L162.5,255.6 L164.0,257.0 L165.7,258.6 L167.3,260.7 L168.9,262.2 L170.5,263.8 L172.0,265.0 L173.7,267.1 L175.2,269.2 L176.8,272.0 L178.0,272.4 L180.0,273.7 L181.6,275.0 L183.0,276.0 L184.8,278.6 L186.4,281.8 L188.0,283.5 L190.0,287.0 L191.1,287.9 L192.7,289.8 L194.3,291.1 L195.9,292.3 L197.5,294.9 L198.0,295.0 L199.1,296.5 L200.7,298.2 L202.3,300.6 L203.9,302.9 L205.0,304.0 L205.5,303.9 L207.0,305.4 L208.6,306.8 L210.2,307.9 L212.0,309.0 L213.4,309.6 L215.0,312.5 L216.6,313.7 L218.2,315.2 L220.0,317.0 L221.4,318.0 L222.9,318.8 L224.5,319.6 L226.1,320.7 L227.7,321.9 L229.3,322.9 L230.0,323.6 L230.9,323.7 L232.5,325.4 L234.1,325.7 L235.7,327.5 L237.3,327.8 L238.8,329.4 L240.0,330.0 L242.0,331.1 L243.6,331.5 L245.2,332.6 L246.8,333.5 L248.4,333.5 L250.0,335.0 L251.6,335.8 L253.2,336.2 L254.7,337.2 L256.3,338.1 L258.0,338.6 L259.5,339.3 L261.1,339.6 L262.7,339.7 L264.3,340.2 L266.0,340.6 L267.5,340.3 L269.1,340.1 L270.0,340.0 L270.6,339.2 L272.2,339.4 L273.8,339.2 L275.0,339.0 L277.0,340.2 L278.6,341.4 L280.0,342.0 L281.8,342.2 L283.4,339.7 L285.0,340.1 L286.5,338.8 L288.0,339.0 L289.7,339.8 L291.3,337.5 L292.9,338.4 L294.5,338.3 L296.1,337.7 L298.0,337.6 L299.3,336.2 L300.9,336.8 L302.4,336.0 L304.0,335.2 L305.6,334.3 L307.0,334.0 L308.8,331.7 L310.4,330.2 L312.0,328.1 L314.0,326.0 L315.2,324.7 L316.8,323.0 L318.3,321.4 L319.9,319.0 L321.5,317.5 L322.0,317.0 L323.1,316.5 L324.7,315.3 L326.3,314.6 L328.0,313.0 L329.5,312.4 L331.1,311.7 L332.7,312.6 L334.0,312.0 L335.8,311.1 L337.4,309.9 L339.0,308.2 L340.6,307.0 L342.2,306.5 L343.8,304.6 L345.4,303.1 L346.0,303.4 L347.0,302.6 L348.6,303.4 L350.1,302.5 L352.0,301.0 L353.3,300.3 L354.9,300.3 L356.5,299.4 L358.1,299.8 L359.0,299.0 L359.7,299.1 L361.3,298.9 L362.9,300.1 L364.5,299.5 L366.0,300.0 L367.6,300.0 L369.2,299.9 L370.8,300.1 L372.0,300.0 L374.0,301.3 L375.6,302.7 L377.0,305.0 L378.8,304.4 L380.4,304.4 L381.9,304.2 L383.0,304.0 L383.5,304.5 L385.1,305.0 L386.7,305.3 L388.3,306.0 L390.0,307.0 L391.5,306.9 L393.1,307.2 L395.0,307.0 L396.3,307.5 L397.8,308.2 L399.4,309.3 L401.0,309.6 L402.0,310.0 L402.6,310.6 L404.2,311.4 L405.8,312.2 L407.4,313.5 L409.0,313.6 L410.0,314.4 L410.6,314.7 L412.2,315.7 L413.7,316.8 L415.3,318.9 L416.9,320.2 L418.5,320.7 L419.0,321.0 L420.1,321.6 L421.7,322.4 L423.3,322.8 L424.9,323.4 L426.5,323.0 L428.0,324.0 L429.6,325.2 L431.2,326.6 L432.8,327.1 L434.4,327.7 L436.0,329.0 L437.6,330.4 L439.2,332.0 L440.0,333.2 L440.8,334.2 L442.4,334.1 L444.0,335.1 L445.5,336.7 L446.0,336.0 L447.1,337.5 L448.7,338.6 L450.3,339.6 L451.9,341.4 L453.5,343.3 L455.0,344.0 L456.7,346.2 L458.3,347.3 L459.9,349.1 L461.4,350.4 L462.0,351.0 L463.0,351.1 L464.6,351.4 L466.2,350.2 L467.8,350.7 L469.4,350.7 L470.0,350.6 L471.0,351.6 L472.6,353.6 L474.2,355.9 L475.8,358.3 L477.0,359.0 L478.9,360.9 L480.5,361.6 L482.1,364.4 L483.0,364.4 L483.7,364.6 L485.3,365.0 L486.9,365.0 L488.5,365.8 L489.0,366.0 L490.1,365.1 L491.7,364.8 L493.2,364.1 L494.0,363.6 L494.8,364.1 L496.4,365.0 L498.0,365.5 L499.6,367.3 L501.2,367.3 L502.0,368.0 L502.8,367.2 L504.4,367.7 L506.0,367.3 L507.6,367.0 L509.1,367.1 L510.7,367.2 L512.0,367.0 L513.9,367.1 L515.5,367.9 L517.1,367.7 L518.7,367.5 L520.3,367.7 L521.9,367.8 L523.5,367.9 L524.0,368.0 L525.0,367.9 L526.6,367.1 L528.2,365.6 L529.8,366.1 L531.4,365.2 L533.0,365.0 L534.6,365.0 L536.2,365.5 L537.8,366.6 L539.4,365.5 L540.0,366.0 L540.9,365.4 L542.5,365.1 L544.1,364.5 L545.7,364.5 L547.3,365.2 L548.9,364.6 L550.5,363.9 L552.0,364.4 L553.7,364.2 L555.3,363.3 L556.8,363.0 L558.4,362.9 L560.0,362.9 L561.6,362.8 L563.2,362.0 L564.0,361.4 L564.8,361.1 L566.4,360.4 L568.0,360.4 L569.6,359.5 L571.2,358.1 L572.7,357.7 L574.0,357.0 L575.9,357.2 L577.5,357.2 L579.1,357.0 L580.0,357.6 L580.7,357.1 L582.3,356.2 L583.9,356.7 L585.5,355.8 L587.1,354.6 L588.6,355.0 L590.0,354.0 L591.8,352.9 L593.4,354.2 L595.0,353.5 L596.6,353.8 L598.2,352.2 L600.0,352.4 L601.4,352.2 L603.0,351.7 L604.5,351.2 L606.1,351.1 L607.7,349.6 L609.3,349.3 L610.0,349.6 L610.9,349.0 L612.5,349.3 L614.1,349.2 L615.7,349.5 L617.3,349.3 L618.9,349.2 L620.4,348.8 L622.0,349.0 L623.6,348.8 L625.2,348.1 L626.8,347.2 L628.4,346.5 L630.0,346.0 L631.6,345.4 L633.2,345.4 L634.8,345.2 L636.3,344.2 L637.9,344.3 L639.5,343.1 L640.0,343.4 L641.1,343.5 L642.7,342.8 L644.3,341.7 L645.9,342.3 L647.5,341.2 L649.1,341.7 L650.0,341.0 L650.7,340.5 L652.2,340.1 L653.8,339.7 L655.4,338.9 L657.0,338.4 L658.6,339.0 L660.0,340.0 L661.8,339.2 L663.4,338.6 L665.0,336.7 L666.6,337.6 L668.1,336.4 L670.0,335.6 L671.3,335.7 L672.9,335.9 L674.5,336.3 L676.1,335.5 L678.0,336.0 L679.3,335.5 L680.9,335.9 L682.5,334.3 L684.0,334.1 L685.6,333.1 L687.2,332.2 L688.0,332.4 L688.8,332.6 L690.4,332.2 L692.0,332.1 L693.6,331.4 L695.2,330.5 L696.8,329.7 L698.4,329.7 L700.0,329.6 L701.5,328.4 L703.1,328.0 L704.7,327.0 L706.3,325.9 L707.9,325.1 L709.0,324.4 L709.5,324.3 L711.1,324.2 L712.7,324.1 L714.3,324.0 L715.8,323.1 L717.4,322.5 L718.0,323.0 L719.0,322.9 L720.6,321.4 L722.2,320.7 L723.8,318.6 L725.0,318.5 L727.0,317.8 L728.6,316.7 L730.2,316.5 L732.0,316.0 L733.3,314.7 L734.9,312.9 L736.5,309.9 L737.5,309.0 L738.1,308.1 L739.7,308.0 L741.3,307.4 L742.9,306.2 L744.5,304.8 L746.0,304.5 L747.6,303.5 L749.2,302.1 L750.8,300.4 L752.4,299.5 L754.0,298.4 L754.5,297.7 L755.6,296.0 L757.2,293.4 L758.8,292.1 L760.4,290.1 L762.0,287.7 L762.5,287.0 L763.5,285.7 L765.1,282.6 L766.7,280.2 L767.5,279.0 L768.3,277.8 L769.9,275.9 L771.5,274.1 L773.1,271.2 L774.0,270.0 L774.7,269.7 L776.3,266.8 L777.9,263.9 L779.4,261.2 L780.0,260.0 L781.0,259.3 L782.6,256.3 L784.2,254.2 L785.8,251.6 L787.4,250.0 L788.0,249.0 L789.0,248.3 L790.6,246.1 L792.2,244.1 L793.8,241.9 L795.3,240.1 L797.0,238.0 L798.5,234.8 L800.1,230.4 L802.0,226.0 L803.3,224.2 L804.9,222.3 L806.5,221.1 L808.0,219.0 L809.7,217.6 L811.2,217.8 L812.8,216.9 L814.4,215.6 L816.0,215.0 L817.6,213.7 L819.2,212.8 L820.8,212.1 L822.4,210.9 L824.0,210.0 L825.6,209.8 L827.1,208.9 L828.7,209.6 L830.0,209.0 L831.9,209.4 L833.0,210.0 L833.5,209.7" fill="none" stroke="#000070" stroke-width="1.3" stroke-dasharray="5.65 2.44"/>
<path d="M120.0,294.4 L121.2,295.0 L122.8,295.2 L124.4,295.5 L126.0,295.7 L127.5,295.4 L128.0,296.0 L129.1,295.9 L130.7,296.0 L132.3,296.0 L134.0,296.4 L135.5,297.0 L137.1,298.0 L138.7,298.8 L140.3,299.4 L142.0,301.0 L143.4,302.4 L145.0,303.1 L146.6,303.8 L148.2,304.3 L149.8,306.3 L151.0,307.0 L153.0,311.1 L154.6,314.4 L156.0,317.0 L157.8,319.9 L159.3,321.7 L160.9,324.4 L162.5,326.6 L163.0,327.0 L164.1,327.7 L166.0,330.0 L167.3,331.7 L168.9,334.8 L170.5,337.6 L172.0,340.0 L173.7,340.2 L175.2,342.0 L176.0,342.0 L176.8,343.0 L178.4,344.9 L180.0,345.6 L181.6,347.9 L183.2,349.8 L184.8,351.4 L186.0,352.0 L188.0,354.5 L189.6,356.4 L191.1,358.7 L192.7,360.7 L194.0,362.0 L195.9,364.5 L197.5,367.5 L199.1,369.5 L200.0,371.0 L200.7,371.7 L202.3,372.9 L203.9,374.6 L205.5,375.7 L207.0,376.5 L208.6,378.0 L210.0,379.0 L211.8,380.3 L213.4,381.9 L215.0,383.4 L216.6,384.8 L218.2,385.8 L219.8,386.6 L221.0,388.0 L222.9,389.3 L224.5,390.4 L226.1,392.0 L227.7,392.0 L229.3,393.6 L230.9,394.5 L232.0,395.0 L232.5,394.7 L234.1,395.6 L235.7,396.6 L237.3,397.1 L238.8,397.9 L240.4,398.8 L242.0,399.1 L243.6,400.1 L245.2,400.5 L246.0,401.0 L246.8,401.1 L248.4,402.1 L250.0,402.3 L251.6,403.2 L253.2,404.2 L254.7,404.3 L256.3,404.8 L257.9,405.7 L259.5,406.0 L261.1,407.0 L262.0,407.0 L262.7,406.8 L264.3,407.9 L265.9,408.0 L267.5,408.4 L269.1,409.6 L270.0,409.4 L270.6,409.3 L272.2,410.3 L273.8,410.3 L275.4,410.8 L277.0,410.4 L278.6,411.3 L280.2,411.7 L282.0,411.6 L283.4,411.9 L285.0,413.0 L286.5,412.6 L288.1,412.8 L289.7,413.1 L291.3,413.7 L292.9,414.0 L294.5,414.3 L296.1,415.1 L298.0,415.0 L299.3,414.9 L300.9,414.9 L302.4,413.8 L304.0,414.1 L305.6,414.0 L307.2,412.8 L308.8,412.5 L310.0,412.6 L312.0,411.4 L313.6,411.6 L315.2,410.4 L316.8,410.6 L318.3,410.4 L319.9,409.0 L321.5,408.9 L323.1,407.9 L324.7,408.2 L326.0,407.6 L327.9,407.2 L329.5,407.0 L331.1,406.8 L332.7,406.3 L334.2,406.1 L335.8,405.6 L337.4,405.5 L339.0,404.8 L340.0,405.0 L340.6,404.9 L342.2,404.1 L343.8,404.2 L345.4,404.7 L347.0,403.9 L348.6,403.2 L350.1,403.4 L351.7,402.8 L353.3,402.3 L354.9,402.4 L356.0,402.4 L356.5,402.6 L358.1,402.5 L359.7,402.3 L361.3,402.0 L362.9,401.9 L364.5,402.6 L366.0,402.2 L367.6,401.8 L369.2,401.4 L370.0,402.0 L370.8,401.9 L372.4,403.6 L374.0,403.2 L375.6,404.1 L377.2,404.8 L378.0,405.0 L378.8,405.0 L380.4,405.2 L381.9,405.0 L383.5,405.3 L385.1,406.3 L386.7,405.8 L388.3,406.5 L390.0,406.4 L391.5,406.4 L393.1,406.6 L394.7,406.9 L396.3,406.3 L397.8,406.9 L399.4,406.9 L401.0,406.6 L402.6,407.0 L404.2,406.7 L406.0,407.0 L407.4,407.2 L409.0,406.7 L410.6,407.7 L412.2,407.7 L413.7,407.8 L415.3,408.4 L416.0,408.6 L416.9,408.8 L418.5,408.3 L420.1,408.7 L421.7,407.9 L423.3,407.8 L424.9,408.5 L426.0,408.0 L426.5,408.3 L428.1,408.9 L429.6,408.8 L431.2,409.8 L432.8,410.1 L434.4,410.7 L436.0,411.0 L437.6,411.8 L439.2,411.8 L440.0,412.2 L440.8,411.9 L442.4,411.8 L444.0,412.7 L445.5,412.2 L446.0,412.4 L447.1,412.6 L448.7,413.4 L450.3,414.3 L451.9,414.7 L453.5,415.8 L455.1,416.4 L456.0,417.0 L456.7,417.1 L458.3,417.7 L459.9,418.7 L461.4,419.2 L462.0,419.6 L463.0,419.2 L464.6,418.5 L466.2,417.9 L468.0,417.0 L469.4,417.5 L471.0,418.3 L472.6,419.5 L474.0,420.0 L475.8,421.7 L477.3,423.6 L478.9,425.3 L480.0,426.6 L480.5,427.1 L482.1,427.3 L483.7,428.4 L485.3,428.3 L486.0,429.0 L486.9,428.0 L488.5,428.1 L490.1,427.0 L491.7,426.2 L493.0,425.4 L494.8,425.9 L496.4,425.7 L498.0,426.7 L499.6,426.6 L501.2,427.3 L502.8,427.4 L504.4,427.1 L506.0,428.0 L507.6,428.3 L509.1,427.9 L510.7,427.7 L512.3,427.9 L513.9,427.6 L515.5,427.5 L517.1,427.7 L518.7,427.6 L520.3,428.0 L521.9,427.5 L523.5,428.0 L524.0,427.4 L525.0,427.7 L526.6,427.3 L528.2,426.7 L529.8,426.0 L531.4,425.6 L533.0,425.1 L534.6,424.5 L536.0,424.4 L537.8,424.3 L539.4,425.1 L540.9,424.8 L542.5,424.6 L544.1,424.2 L545.7,424.9 L547.3,424.8 L548.0,425.0 L548.9,424.5 L550.5,424.2 L552.1,423.6 L553.7,424.1 L555.3,423.6 L556.8,424.1 L558.4,423.0 L560.0,422.7 L561.6,422.9 L563.2,422.2 L564.0,422.0 L564.8,421.9 L566.4,421.3 L568.0,420.8 L569.6,421.1 L571.2,420.5 L572.7,420.3 L574.3,419.3 L575.9,419.0 L577.5,418.4 L579.1,418.5 L580.0,418.0 L580.7,417.4 L582.3,417.6 L583.9,417.4 L585.5,417.1 L587.1,416.0 L588.6,416.2 L590.2,415.2 L592.0,415.0 L593.4,414.4 L595.0,415.0 L596.6,415.0 L598.2,414.1 L599.8,413.9 L601.4,413.8 L603.0,414.5 L604.0,413.6 L604.5,413.8 L606.1,413.0 L607.7,412.4 L609.3,412.4 L610.9,412.7 L612.5,412.6 L614.1,411.7 L616.0,411.4 L617.3,411.1 L618.9,410.4 L620.4,411.0 L622.0,410.2 L623.6,410.6 L625.2,409.5 L626.8,409.4 L628.4,409.6 L630.0,409.1 L632.0,409.0 L633.2,408.5 L634.8,407.5 L636.3,407.4 L637.9,406.8 L639.5,405.3 L641.1,405.8 L642.7,404.7 L644.0,404.0 L645.9,403.0 L647.5,402.9 L649.1,402.6 L650.7,402.7 L652.2,401.5 L653.8,401.3 L655.4,400.5 L657.0,400.7 L658.6,400.5 L660.0,400.0 L661.8,399.2 L663.4,399.0 L665.0,398.7 L666.6,397.9 L668.1,397.1 L669.7,396.2 L671.3,395.8 L672.9,395.3 L674.5,395.0 L676.0,394.4 L677.7,394.2 L679.3,393.1 L680.9,392.0 L682.5,392.1 L684.0,391.2 L685.6,390.3 L687.2,389.4 L688.8,388.3 L690.0,388.4 L692.0,387.7 L693.6,386.4 L695.2,385.5 L696.8,385.2 L698.4,384.4 L699.9,383.8 L701.5,383.0 L703.1,382.4 L704.0,381.6 L704.7,381.0 L706.3,380.8 L707.9,379.5 L709.5,379.2 L711.1,378.3 L712.7,377.6 L714.3,377.1 L715.8,376.0 L717.4,375.6 L718.0,375.0 L719.0,374.5 L720.6,373.1 L722.2,371.7 L723.8,370.4 L725.4,369.3 L727.0,368.2 L728.6,367.1 L730.0,366.0 L731.7,364.7 L733.3,363.3 L734.9,361.5 L736.5,360.1 L738.1,358.9 L739.7,357.7 L741.3,355.9 L742.0,355.6 L742.9,355.3 L744.5,353.3 L746.1,352.3 L747.6,349.9 L749.2,349.2 L750.8,347.9 L752.4,346.5 L754.0,345.0 L755.6,343.2 L757.2,341.2 L758.8,338.7 L760.4,337.2 L762.0,334.8 L763.5,333.7 L764.0,333.0 L765.1,331.6 L766.7,329.3 L768.3,327.0 L770.0,325.0 L771.5,323.7 L773.1,321.7 L774.0,320.0 L774.7,319.0 L776.3,317.2 L777.9,314.1 L779.4,311.8 L781.0,310.0 L782.6,307.7 L784.0,306.0 L785.8,303.5 L787.4,302.2 L789.0,298.8 L790.6,296.8 L792.2,294.7 L794.0,292.0 L795.3,290.3 L796.9,288.1 L798.5,284.8 L800.1,282.9 L802.0,280.0 L803.3,279.0 L804.9,277.0 L806.5,275.6 L808.1,274.0 L810.0,273.0 L811.2,272.1 L812.8,270.8 L814.4,268.8 L816.0,268.1 L817.6,266.7 L819.2,265.2 L820.0,265.0 L820.8,264.3 L822.4,264.0 L824.0,263.2 L826.0,262.0 L827.1,262.1 L828.7,261.7 L830.3,261.8 L831.9,261.7 L833.0,261.6 L833.5,261.8" fill="none" stroke="#060650" stroke-width="1.85" stroke-dasharray="7.2 3.1"/>
<path d="M120.0,363.6 L121.2,363.7 L122.8,363.9 L124.4,364.0 L126.0,365.1 L127.5,364.8 L129.1,365.0 L130.0,365.0 L130.7,366.0 L132.3,366.3 L133.9,366.0 L135.5,367.3 L137.1,367.9 L138.0,368.0 L138.7,369.0 L140.3,369.7 L141.9,370.5 L143.4,370.8 L145.0,371.8 L146.0,372.6 L146.6,373.4 L148.2,375.1 L149.8,376.4 L151.0,378.0 L153.0,381.0 L154.6,383.6 L156.2,386.2 L158.0,389.0 L159.3,390.9 L160.9,394.3 L162.5,397.0 L164.0,399.0 L165.7,401.4 L167.3,403.3 L168.9,405.3 L170.5,407.2 L172.0,409.0 L173.7,411.0 L175.2,413.0 L176.8,414.2 L178.4,416.8 L180.0,418.0 L181.6,420.6 L183.2,422.6 L184.8,424.2 L186.4,425.9 L188.0,428.0 L189.6,428.8 L191.1,430.2 L192.7,431.3 L194.3,432.6 L196.0,433.6 L197.5,435.9 L199.1,437.6 L201.0,439.0 L202.3,439.9 L203.9,440.7 L205.5,441.6 L207.0,442.3 L208.6,443.2 L210.0,444.0 L211.8,445.3 L213.4,446.3 L215.0,447.4 L216.6,448.1 L218.2,449.5 L219.0,450.0 L219.8,450.4 L221.4,451.5 L222.9,451.8 L224.5,453.1 L226.1,454.2 L227.7,454.9 L229.3,455.5 L230.0,456.0 L230.9,456.3 L232.5,457.0 L234.1,458.1 L235.7,459.0 L237.3,459.2 L238.8,459.8 L240.4,460.8 L242.0,461.4 L243.6,461.5 L245.2,461.9 L246.8,462.4 L248.4,463.0 L250.0,462.8 L251.6,463.1 L253.2,463.9 L254.7,463.8 L256.0,464.4 L257.9,465.5 L259.5,466.2 L261.1,466.8 L262.7,467.9 L264.0,468.6 L265.9,469.1 L267.5,469.2 L269.1,470.1 L270.0,470.0 L270.6,469.7 L272.2,470.5 L273.8,471.0 L275.4,471.7 L277.0,471.6 L278.6,472.4 L280.0,472.6 L281.8,473.4 L283.4,474.3 L285.0,474.2 L286.5,475.0 L288.1,475.1 L290.0,476.0 L291.3,476.7 L292.9,476.8 L294.5,476.8 L296.1,477.7 L297.7,478.3 L299.3,478.7 L300.0,478.6 L300.9,478.9 L302.4,478.2 L304.0,478.7 L305.6,479.4 L307.2,478.7 L308.8,479.6 L310.4,479.9 L312.0,479.7 L314.0,479.6 L315.2,479.5 L316.8,479.3 L318.3,479.7 L319.9,479.7 L321.5,479.8 L323.1,480.1 L324.7,479.9 L326.0,480.0 L327.9,480.4 L329.5,480.6 L331.1,481.4 L332.7,481.2 L334.2,481.4 L335.8,481.6 L337.4,481.7 L338.0,482.0 L339.0,482.6 L340.6,482.5 L342.2,482.4 L343.8,482.8 L345.4,483.2 L347.0,483.4 L348.6,484.1 L350.0,484.0 L351.7,484.5 L353.3,484.7 L354.9,484.6 L356.5,485.3 L358.1,485.6 L360.0,486.0 L361.3,485.7 L362.9,485.8 L364.5,485.1 L366.0,485.1 L367.6,485.5 L369.2,485.4 L370.0,485.0 L370.8,485.2 L372.4,485.3 L374.0,486.1 L375.6,485.5 L377.2,486.2 L378.8,487.0 L380.4,487.3 L382.0,487.4 L383.5,487.1 L385.1,488.4 L386.7,488.2 L388.3,488.2 L389.9,488.7 L391.5,489.3 L393.1,488.5 L394.0,489.4 L394.7,489.8 L396.3,489.8 L397.8,489.1 L399.4,490.1 L401.0,489.5 L402.6,490.5 L404.2,490.4 L406.0,490.4 L407.4,489.7 L409.0,489.4 L410.0,489.0 L410.6,489.4 L412.2,489.2 L413.7,489.4 L415.3,489.8 L416.9,490.2 L418.0,490.4 L418.5,489.8 L420.1,489.3 L422.0,488.0 L423.3,488.0 L424.9,488.4 L426.5,487.8 L428.1,488.2 L429.6,487.6 L431.2,488.0 L432.8,487.1 L434.4,487.7 L436.0,487.6 L437.6,488.0 L439.2,488.5 L440.0,489.0 L440.8,488.5 L442.4,487.6 L444.0,486.3 L445.0,486.4 L445.5,486.4 L447.1,486.9 L448.7,487.4 L450.0,488.0 L451.9,488.0 L453.5,488.3 L455.1,488.0 L456.7,488.0 L458.3,488.6 L460.0,488.2 L461.4,488.8 L462.1,488.6 L463.0,488.3 L464.9,486.8 L466.2,485.5 L467.1,484.7 L467.8,484.9 L469.4,484.0 L469.9,484.0 L471.0,483.9 L472.7,483.9 L474.2,485.3 L474.8,485.8 L475.8,486.5 L477.6,488.2 L478.9,488.9 L480.5,490.1 L481.2,490.3 L482.1,490.9 L483.7,491.1 L484.7,491.2 L485.3,491.3 L486.9,490.5 L488.2,490.7 L490.1,488.5 L491.1,487.5 L491.7,487.2 L493.2,486.1 L493.9,485.1 L494.8,484.5 L495.3,484.8 L496.4,485.8 L497.4,486.5 L498.0,486.2 L499.6,486.3 L500.2,486.5 L501.2,486.2 L502.8,486.2 L503.8,485.8 L504.4,485.8 L506.0,486.0 L507.3,485.5 L509.4,484.7 L510.7,484.1 L512.2,482.9 L513.9,482.9 L515.0,482.7 L515.5,482.7 L517.1,483.0 L517.9,483.6 L518.7,483.1 L520.0,482.7 L521.9,483.4 L523.5,482.3 L524.0,482.4 L525.0,482.7 L526.6,481.8 L528.2,481.5 L529.8,481.3 L531.4,480.4 L533.0,480.6 L534.6,480.0 L536.0,479.6 L537.8,479.6 L539.4,479.4 L540.9,479.2 L542.5,479.4 L544.1,478.7 L545.7,478.8 L547.3,478.7 L548.9,478.0 L550.5,478.5 L552.0,478.0 L553.7,477.2 L555.3,477.3 L556.8,476.5 L558.4,476.4 L560.0,475.5 L561.6,475.6 L563.2,474.9 L564.8,474.9 L566.4,473.9 L568.0,474.0 L569.6,473.6 L571.2,473.3 L572.7,473.0 L574.3,472.7 L575.9,471.9 L577.5,471.2 L579.1,471.6 L580.0,471.4 L580.7,470.9 L582.3,470.4 L583.9,470.1 L585.5,468.8 L587.1,468.6 L588.6,468.0 L590.2,467.3 L592.0,467.0 L593.4,466.7 L595.0,466.2 L596.6,465.8 L598.2,466.0 L599.8,465.2 L601.4,465.3 L602.0,465.0 L603.0,464.7 L604.5,463.2 L606.1,462.6 L607.7,462.1 L609.3,461.4 L610.9,460.8 L612.0,460.0 L612.5,460.1 L614.1,459.9 L615.7,459.2 L617.3,459.0 L618.9,458.9 L620.4,458.3 L622.0,458.4 L623.6,457.3 L625.2,457.7 L626.8,457.2 L628.0,457.0 L630.0,456.5 L631.6,455.7 L633.2,455.0 L634.8,454.1 L636.3,453.7 L637.9,453.6 L639.5,452.3 L640.0,452.4 L641.1,451.0 L642.7,451.3 L644.3,450.7 L645.9,450.5 L647.5,449.9 L649.1,449.3 L650.7,448.8 L652.2,448.9 L653.8,447.6 L655.4,448.2 L656.0,447.4 L657.0,446.7 L658.6,445.7 L660.2,445.4 L661.8,444.4 L663.4,443.1 L665.0,442.8 L666.0,442.0 L666.6,441.2 L668.1,440.8 L669.7,440.8 L671.3,439.7 L672.9,438.7 L674.5,438.6 L676.1,438.1 L677.7,437.2 L679.3,436.0 L680.0,436.2 L680.9,435.7 L682.5,435.1 L684.0,434.4 L685.6,433.9 L687.2,432.4 L688.8,431.5 L690.4,430.8 L692.0,430.4 L694.0,429.0 L695.2,428.7 L696.8,426.6 L698.4,426.8 L699.9,425.4 L701.5,424.8 L703.1,424.0 L704.7,422.5 L706.3,421.9 L708.0,421.0 L709.5,420.4 L711.1,419.1 L712.7,418.2 L714.3,417.0 L715.8,417.5 L717.4,415.8 L719.0,415.0 L720.0,414.5 L720.6,413.6 L722.2,413.2 L723.8,411.7 L725.4,411.1 L727.0,409.8 L728.6,408.4 L730.2,407.5 L732.0,406.0 L733.3,404.7 L734.9,403.3 L736.5,401.7 L738.1,400.7 L740.0,399.0 L741.3,398.2 L742.9,395.3 L744.5,394.7 L746.1,393.1 L747.6,391.8 L749.2,390.6 L750.8,389.1 L752.4,387.5 L754.0,386.0 L755.6,384.6 L757.2,382.9 L758.8,380.7 L760.4,379.6 L762.0,378.0 L763.5,375.9 L765.1,374.5 L766.7,372.7 L768.3,370.9 L770.0,369.0 L771.5,367.0 L773.1,364.7 L774.7,363.0 L776.3,361.1 L777.9,359.3 L779.4,357.1 L780.0,356.0 L781.0,354.3 L782.6,352.1 L784.2,349.8 L785.8,347.9 L787.4,346.1 L789.0,343.5 L790.6,340.4 L792.0,339.0 L793.8,336.3 L795.3,334.7 L796.9,332.4 L798.5,330.4 L800.1,328.7 L802.0,325.6 L803.3,324.4 L804.9,324.2 L806.5,322.6 L808.1,321.1 L810.0,320.0 L811.2,318.3 L812.8,316.4 L814.4,315.6 L816.0,314.0 L817.6,312.7 L819.2,310.8 L820.0,310.0 L820.8,309.3 L822.4,308.4 L824.0,307.6 L825.6,306.9 L827.1,307.3 L828.7,307.1 L830.0,307.0 L831.9,308.2 L833.0,309.0 L833.5,309.1" fill="none" stroke="#000" stroke-width="2.8" stroke-linejoin="round"/>
<rect x="119.6" y="39.4" width="713.9" height="726.1" fill="none" stroke="#000" stroke-width="1.2"/>
<line x1="119.6" y1="765.5" x2="119.6" y2="771.2" stroke="#000" stroke-width="1.2"/>
<text transform="translate(119.6,791.2) scale(0.965,1.06)" text-anchor="middle" font-size="16.67" font-family="DejaVu Sans, Liberation Sans, sans-serif">0</text>
<line x1="199.1" y1="765.5" x2="199.1" y2="771.2" stroke="#000" stroke-width="1.2"/>
<text transform="translate(199.1,791.2) scale(0.965,1.06)" text-anchor="middle" font-size="16.67" font-family="DejaVu Sans, Liberation Sans, sans-serif">50</text>
<line x1="278.6" y1="765.5" x2="278.6" y2="771.2" stroke="#000" stroke-width="1.2"/>
<text transform="translate(278.6,791.2) scale(0.965,1.06)" text-anchor="middle" font-size="16.67" font-family="DejaVu Sans, Liberation Sans, sans-serif">100</text>
<line x1="358.1" y1="765.5" x2="358.1" y2="771.2" stroke="#000" stroke-width="1.2"/>
<text transform="translate(358.1,791.2) scale(0.965,1.06)" text-anchor="middle" font-size="16.67" font-family="DejaVu Sans, Liberation Sans, sans-serif">150</text>
<line x1="437.6" y1="765.5" x2="437.6" y2="771.2" stroke="#000" stroke-width="1.2"/>
<text transform="translate(437.6,791.2) scale(0.965,1.06)" text-anchor="middle" font-size="16.67" font-family="DejaVu Sans, Liberation Sans, sans-serif">200</text>
<line x1="517.1" y1="765.5" x2="517.1" y2="771.2" stroke="#000" stroke-width="1.2"/>
<text transform="translate(517.1,791.2) scale(0.965,1.06)" text-anchor="middle" font-size="16.67" font-family="DejaVu Sans, Liberation Sans, sans-serif">250</text>
<line x1="596.6" y1="765.5" x2="596.6" y2="771.2" stroke="#000" stroke-width="1.2"/>
<text transform="translate(596.6,791.2) scale(0.965,1.06)" text-anchor="middle" font-size="16.67" font-family="DejaVu Sans, Liberation Sans, sans-serif">300</text>
<line x1="676.1" y1="765.5" x2="676.1" y2="771.2" stroke="#000" stroke-width="1.2"/>
<text transform="translate(676.1,791.2) scale(0.965,1.06)" text-anchor="middle" font-size="16.67" font-family="DejaVu Sans, Liberation Sans, sans-serif">350</text>
<line x1="755.6" y1="765.5" x2="755.6" y2="771.2" stroke="#000" stroke-width="1.2"/>
<text transform="translate(755.6,791.2) scale(0.965,1.06)" text-anchor="middle" font-size="16.67" font-family="DejaVu Sans, Liberation Sans, sans-serif">400</text>
<line x1="113.39999999999999" y1="46.4" x2="119.6" y2="46.4" stroke="#000" stroke-width="1.2"/>
<text transform="translate(107.5,54.199999999999996) scale(0.965,1.06)" text-anchor="end" font-size="16.67" font-family="DejaVu Sans, Liberation Sans, sans-serif">2</text>
<line x1="113.39999999999999" y1="200.4" x2="119.6" y2="200.4" stroke="#000" stroke-width="1.2"/>
<text transform="translate(107.5,208.20000000000002) scale(0.965,1.06)" text-anchor="end" font-size="16.67" font-family="DejaVu Sans, Liberation Sans, sans-serif">1</text>
<line x1="113.39999999999999" y1="354.4" x2="119.6" y2="354.4" stroke="#000" stroke-width="1.2"/>
<text transform="translate(107.5,362.2) scale(0.965,1.06)" text-anchor="end" font-size="16.67" font-family="DejaVu Sans, Liberation Sans, sans-serif">0</text>
<line x1="113.39999999999999" y1="508.4" x2="119.6" y2="508.4" stroke="#000" stroke-width="1.2"/>
<text transform="translate(107.5,516.1999999999999) scale(0.965,1.06)" text-anchor="end" font-size="16.67" font-family="DejaVu Sans, Liberation Sans, sans-serif">−1</text>
<line x1="113.39999999999999" y1="662.4" x2="119.6" y2="662.4" stroke="#000" stroke-width="1.2"/>
<text transform="translate(107.5,670.1999999999999) scale(0.965,1.06)" text-anchor="end" font-size="16.67" font-family="DejaVu Sans, Liberation Sans, sans-serif">−2</text>
<text transform="translate(476.0,815.5) scale(1.0,1.05)" text-anchor="middle" font-size="16.67" font-family="DejaVu Sans, Liberation Sans, sans-serif">Binned row index</text>
<text transform="translate(71.1,403.2) rotate(-90) scale(1.003,1.05)" text-anchor="middle" font-size="16.67" font-family="DejaVu Sans, Liberation Sans, sans-serif">UV aerosol index (354/388 nm)</text>
<rect x="119.6" y="16.9" width="713.4" height="22.5" rx="2.4" ry="2.4" fill="#fff" fill-opacity="0.8" stroke="#d2d2d2" stroke-width="1.4"/>
<line x1="119.6" y1="39.35" x2="832.9" y2="39.35" stroke="#858585" stroke-width="1.4"/>
<line x1="124.2" y1="27.3" x2="147.4" y2="27.3" stroke="#c8c8ff" stroke-opacity="1" stroke-width="0.8" stroke-dasharray="2.57 1.11"/>
<text transform="translate(155.6,31.7) scale(1.0,1.07)" text-anchor="start" font-size="11.57" font-family="DejaVu Sans, Liberation Sans, sans-serif">1-99%</text>
<line x1="278.2" y1="27.3" x2="301.4" y2="27.3" stroke="#9a9aff" stroke-opacity="1" stroke-width="1.11" stroke-dasharray="4.11 1.78"/>
<text transform="translate(310.2,31.7) scale(1.0,1.07)" text-anchor="start" font-size="11.57" font-family="DejaVu Sans, Liberation Sans, sans-serif">5-95%</text>
<line x1="432.3" y1="27.3" x2="455.5" y2="27.3" stroke="#8080ff" stroke-opacity="1" stroke-width="1.53" stroke-dasharray="5.65 2.44"/>
<text transform="translate(463.6,31.7) scale(1.0,1.07)" text-anchor="start" font-size="11.57" font-family="DejaVu Sans, Liberation Sans, sans-serif">10-90%</text>
<line x1="593.0" y1="27.3" x2="616.2" y2="27.3" stroke="#7070ff" stroke-opacity="1" stroke-width="1.94" stroke-dasharray="7.2 3.1"/>
<text transform="translate(625.2,31.7) scale(1.0,1.07)" text-anchor="start" font-size="11.57" font-family="DejaVu Sans, Liberation Sans, sans-serif">25-75%</text>
<line x1="754.3" y1="27.3" x2="777.5" y2="27.3" stroke="#000" stroke-opacity="1" stroke-width="2.8" stroke-linecap="square"/>
<text transform="translate(786.9,31.7) scale(1.0,1.07)" text-anchor="start" font-size="11.57" font-family="DejaVu Sans, Liberation Sans, sans-serif">Median</text>
</svg>
</body></html>
